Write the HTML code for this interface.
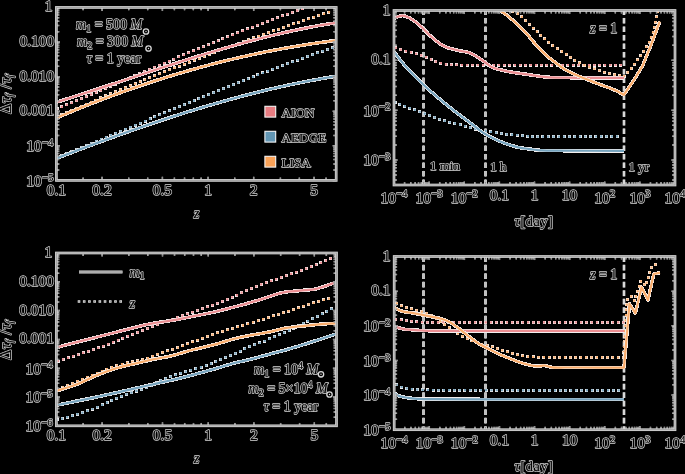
<!DOCTYPE html>
<html><head><meta charset="utf-8"><title>plot</title>
<style>html,body{margin:0;padding:0;background:#000;width:685px;height:474px;overflow:hidden}
svg{display:block;font-family:"Liberation Serif",serif}</style></head>
<body>
<svg width="685" height="474" viewBox="0 0 685 474">
<defs><clipPath id="cp1"><rect x="56.4" y="7.45" width="279.8" height="172.95"/></clipPath><clipPath id="cp2"><rect x="394" y="10.5" width="281" height="174.5"/></clipPath><clipPath id="cp3"><rect x="56.4" y="253" width="280.1" height="172.8"/></clipPath><clipPath id="cp4"><rect x="394.2" y="256.5" width="280.8" height="173.2"/></clipPath></defs>
<rect width="685" height="474" fill="#000"/>
<path d="M423.5 10.5L423.5 185" stroke="#f2f2f2" stroke-width="2.6" stroke-dasharray="5.6 2.9" stroke-dashoffset="1.1" fill="none"/>
<path d="M423.5 10.5L423.5 185" stroke="#b8b8b8" stroke-width="0.9" stroke-dasharray="5.6 2.9" stroke-dashoffset="1.1" fill="none"/>
<path d="M485.5 10.5L485.5 185" stroke="#f2f2f2" stroke-width="2.6" stroke-dasharray="5.6 2.9" stroke-dashoffset="1.1" fill="none"/>
<path d="M485.5 10.5L485.5 185" stroke="#b8b8b8" stroke-width="0.9" stroke-dasharray="5.6 2.9" stroke-dashoffset="1.1" fill="none"/>
<path d="M624 10.5L624 185" stroke="#f2f2f2" stroke-width="2.6" stroke-dasharray="5.6 2.9" stroke-dashoffset="1.1" fill="none"/>
<path d="M624 10.5L624 185" stroke="#b8b8b8" stroke-width="0.9" stroke-dasharray="5.6 2.9" stroke-dashoffset="1.1" fill="none"/>
<path d="M423.5 256.5L423.5 429.7" stroke="#f2f2f2" stroke-width="2.6" stroke-dasharray="5.6 2.9" stroke-dashoffset="0.2" fill="none"/>
<path d="M423.5 256.5L423.5 429.7" stroke="#b8b8b8" stroke-width="0.9" stroke-dasharray="5.6 2.9" stroke-dashoffset="0.2" fill="none"/>
<path d="M485.5 256.5L485.5 429.7" stroke="#f2f2f2" stroke-width="2.6" stroke-dasharray="5.6 2.9" stroke-dashoffset="0.2" fill="none"/>
<path d="M485.5 256.5L485.5 429.7" stroke="#b8b8b8" stroke-width="0.9" stroke-dasharray="5.6 2.9" stroke-dashoffset="0.2" fill="none"/>
<path d="M624 256.5L624 429.7" stroke="#f2f2f2" stroke-width="2.6" stroke-dasharray="5.6 2.9" stroke-dashoffset="0.2" fill="none"/>
<path d="M624 256.5L624 429.7" stroke="#b8b8b8" stroke-width="0.9" stroke-dasharray="5.6 2.9" stroke-dashoffset="0.2" fill="none"/>
<path d="M55.5 107.49h3v3h-3zM60.39 105.44h3v3h-3zM65.27 103.38h3v3h-3zM70.15 101.31h3v3h-3zM75.03 99.24h3v3h-3zM79.91 97.17h3v3h-3zM84.78 95.09h3v3h-3zM89.65 93h3v3h-3zM94.53 90.92h3v3h-3zM99.4 88.83h3v3h-3zM104.27 86.74h3v3h-3zM109.14 84.65h3v3h-3zM114.01 82.55h3v3h-3zM118.87 80.46h3v3h-3zM123.74 78.36h3v3h-3zM128.61 76.27h3v3h-3zM133.48 74.18h3v3h-3zM138.35 72.08h3v3h-3zM143.22 69.99h3v3h-3zM148.09 67.91h3v3h-3zM152.97 65.82h3v3h-3zM157.84 63.74h3v3h-3zM162.72 61.66h3v3h-3zM167.59 59.59h3v3h-3zM172.47 57.52h3v3h-3zM177.36 55.46h3v3h-3zM182.24 53.41h3v3h-3zM187.13 51.36h3v3h-3zM192.02 49.32h3v3h-3zM196.91 47.28h3v3h-3zM201.81 45.25h3v3h-3zM206.71 43.24h3v3h-3zM211.62 41.23h3v3h-3zM216.53 39.23h3v3h-3zM221.44 37.24h3v3h-3zM226.36 35.27h3v3h-3zM231.28 33.3h3v3h-3zM236.21 31.35h3v3h-3zM241.14 29.41h3v3h-3zM246.07 27.48h3v3h-3zM251.02 25.56h3v3h-3zM255.97 23.66h3v3h-3zM260.92 21.78h3v3h-3zM265.88 19.91h3v3h-3zM270.84 18.06h3v3h-3zM275.82 16.23h3v3h-3zM280.8 14.41h3v3h-3zM285.78 12.61h3v3h-3zM290.77 10.83h3v3h-3zM295.77 9.07h3v3h-3zM300.78 7.33h3v3h-3z" fill="#f2eeee" shape-rendering="crispEdges"/>
<path d="M55.9 107.89h2.2v2.2h-2.2zM60.79 105.84h2.2v2.2h-2.2zM65.67 103.78h2.2v2.2h-2.2zM70.55 101.71h2.2v2.2h-2.2zM75.43 99.64h2.2v2.2h-2.2zM80.31 97.57h2.2v2.2h-2.2zM85.18 95.49h2.2v2.2h-2.2zM90.05 93.4h2.2v2.2h-2.2zM94.93 91.32h2.2v2.2h-2.2zM99.8 89.23h2.2v2.2h-2.2zM104.67 87.14h2.2v2.2h-2.2zM109.54 85.05h2.2v2.2h-2.2zM114.41 82.95h2.2v2.2h-2.2zM119.27 80.86h2.2v2.2h-2.2zM124.14 78.76h2.2v2.2h-2.2zM129.01 76.67h2.2v2.2h-2.2zM133.88 74.58h2.2v2.2h-2.2zM138.75 72.48h2.2v2.2h-2.2zM143.62 70.39h2.2v2.2h-2.2zM148.49 68.31h2.2v2.2h-2.2zM153.37 66.22h2.2v2.2h-2.2zM158.24 64.14h2.2v2.2h-2.2zM163.12 62.06h2.2v2.2h-2.2zM167.99 59.99h2.2v2.2h-2.2zM172.87 57.92h2.2v2.2h-2.2zM177.76 55.86h2.2v2.2h-2.2zM182.64 53.81h2.2v2.2h-2.2zM187.53 51.76h2.2v2.2h-2.2zM192.42 49.72h2.2v2.2h-2.2zM197.31 47.68h2.2v2.2h-2.2zM202.21 45.65h2.2v2.2h-2.2zM207.11 43.64h2.2v2.2h-2.2zM212.02 41.63h2.2v2.2h-2.2zM216.93 39.63h2.2v2.2h-2.2zM221.84 37.64h2.2v2.2h-2.2zM226.76 35.67h2.2v2.2h-2.2zM231.68 33.7h2.2v2.2h-2.2zM236.61 31.75h2.2v2.2h-2.2zM241.54 29.81h2.2v2.2h-2.2zM246.47 27.88h2.2v2.2h-2.2zM251.42 25.96h2.2v2.2h-2.2zM256.37 24.06h2.2v2.2h-2.2zM261.32 22.18h2.2v2.2h-2.2zM266.28 20.31h2.2v2.2h-2.2zM271.24 18.46h2.2v2.2h-2.2zM276.22 16.63h2.2v2.2h-2.2zM281.2 14.81h2.2v2.2h-2.2zM286.18 13.01h2.2v2.2h-2.2zM291.17 11.23h2.2v2.2h-2.2zM296.17 9.47h2.2v2.2h-2.2zM301.18 7.73h2.2v2.2h-2.2z" fill="#eb8d91"/>
<path d="M55.5 115.19h3v3h-3zM60.36 113.09h3v3h-3zM65.23 110.99h3v3h-3zM70.1 108.89h3v3h-3zM74.97 106.81h3v3h-3zM79.85 104.73h3v3h-3zM84.72 102.65h3v3h-3zM89.6 100.58h3v3h-3zM94.48 98.52h3v3h-3zM99.37 96.46h3v3h-3zM104.26 94.41h3v3h-3zM109.15 92.37h3v3h-3zM114.04 90.33h3v3h-3zM118.94 88.3h3v3h-3zM123.83 86.28h3v3h-3zM128.74 84.26h3v3h-3zM133.64 82.25h3v3h-3zM138.55 80.25h3v3h-3zM143.46 78.25h3v3h-3zM148.37 76.27h3v3h-3zM153.29 74.29h3v3h-3zM158.21 72.32h3v3h-3zM163.13 70.35h3v3h-3zM168.05 68.39h3v3h-3zM172.98 66.45h3v3h-3zM177.92 64.5h3v3h-3zM182.85 62.57h3v3h-3zM187.79 60.65h3v3h-3zM192.73 58.73h3v3h-3zM197.68 56.83h3v3h-3zM202.62 54.93h3v3h-3zM207.58 53.04h3v3h-3zM212.53 51.16h3v3h-3zM217.49 49.29h3v3h-3zM222.45 47.42h3v3h-3zM227.42 45.57h3v3h-3zM232.39 43.73h3v3h-3zM237.36 41.89h3v3h-3zM242.33 40.07h3v3h-3zM247.31 38.25h3v3h-3zM252.3 36.45h3v3h-3zM257.28 34.65h3v3h-3zM262.27 32.87h3v3h-3zM267.27 31.09h3v3h-3zM272.27 29.33h3v3h-3zM277.27 27.58h3v3h-3zM282.27 25.83h3v3h-3zM287.28 24.1h3v3h-3zM292.3 22.38h3v3h-3zM297.31 20.67h3v3h-3zM302.33 18.97h3v3h-3zM307.36 17.29h3v3h-3zM312.39 15.61h3v3h-3zM317.42 13.95h3v3h-3zM322.45 12.3h3v3h-3zM327.49 10.66h3v3h-3z" fill="#f2eeee" shape-rendering="crispEdges"/>
<path d="M55.9 115.59h2.2v2.2h-2.2zM60.76 113.49h2.2v2.2h-2.2zM65.63 111.39h2.2v2.2h-2.2zM70.5 109.29h2.2v2.2h-2.2zM75.37 107.21h2.2v2.2h-2.2zM80.25 105.13h2.2v2.2h-2.2zM85.12 103.05h2.2v2.2h-2.2zM90 100.98h2.2v2.2h-2.2zM94.88 98.92h2.2v2.2h-2.2zM99.77 96.86h2.2v2.2h-2.2zM104.66 94.81h2.2v2.2h-2.2zM109.55 92.77h2.2v2.2h-2.2zM114.44 90.73h2.2v2.2h-2.2zM119.34 88.7h2.2v2.2h-2.2zM124.23 86.68h2.2v2.2h-2.2zM129.14 84.66h2.2v2.2h-2.2zM134.04 82.65h2.2v2.2h-2.2zM138.95 80.65h2.2v2.2h-2.2zM143.86 78.65h2.2v2.2h-2.2zM148.77 76.67h2.2v2.2h-2.2zM153.69 74.69h2.2v2.2h-2.2zM158.61 72.72h2.2v2.2h-2.2zM163.53 70.75h2.2v2.2h-2.2zM168.45 68.79h2.2v2.2h-2.2zM173.38 66.85h2.2v2.2h-2.2zM178.32 64.9h2.2v2.2h-2.2zM183.25 62.97h2.2v2.2h-2.2zM188.19 61.05h2.2v2.2h-2.2zM193.13 59.13h2.2v2.2h-2.2zM198.08 57.23h2.2v2.2h-2.2zM203.02 55.33h2.2v2.2h-2.2zM207.98 53.44h2.2v2.2h-2.2zM212.93 51.56h2.2v2.2h-2.2zM217.89 49.69h2.2v2.2h-2.2zM222.85 47.82h2.2v2.2h-2.2zM227.82 45.97h2.2v2.2h-2.2zM232.79 44.13h2.2v2.2h-2.2zM237.76 42.29h2.2v2.2h-2.2zM242.73 40.47h2.2v2.2h-2.2zM247.71 38.65h2.2v2.2h-2.2zM252.7 36.85h2.2v2.2h-2.2zM257.68 35.05h2.2v2.2h-2.2zM262.67 33.27h2.2v2.2h-2.2zM267.67 31.49h2.2v2.2h-2.2zM272.67 29.73h2.2v2.2h-2.2zM277.67 27.98h2.2v2.2h-2.2zM282.67 26.23h2.2v2.2h-2.2zM287.68 24.5h2.2v2.2h-2.2zM292.7 22.78h2.2v2.2h-2.2zM297.71 21.07h2.2v2.2h-2.2zM302.73 19.37h2.2v2.2h-2.2zM307.76 17.69h2.2v2.2h-2.2zM312.79 16.01h2.2v2.2h-2.2zM317.82 14.35h2.2v2.2h-2.2zM322.85 12.7h2.2v2.2h-2.2zM327.89 11.06h2.2v2.2h-2.2z" fill="#faad6c"/>
<path d="M55.5 156.03h3v3h-3zM60.41 154.05h3v3h-3zM65.33 152.06h3v3h-3zM70.23 150.05h3v3h-3zM75.14 148.05h3v3h-3zM80.04 146.03h3v3h-3zM84.94 144.02h3v3h-3zM89.84 141.99h3v3h-3zM94.74 139.96h3v3h-3zM99.63 137.93h3v3h-3zM104.52 135.89h3v3h-3zM109.41 133.85h3v3h-3zM114.3 131.81h3v3h-3zM119.19 129.76h3v3h-3zM124.08 127.71h3v3h-3zM128.97 125.66h3v3h-3zM133.86 123.61h3v3h-3zM138.74 121.56h3v3h-3zM143.63 119.51h3v3h-3zM148.52 117.46h3v3h-3zM153.4 115.4h3v3h-3zM158.29 113.36h3v3h-3zM163.18 111.31h3v3h-3zM168.07 109.26h3v3h-3zM172.96 107.22h3v3h-3zM177.85 105.18h3v3h-3zM182.75 103.15h3v3h-3zM187.64 101.12h3v3h-3zM192.54 99.09h3v3h-3zM197.44 97.07h3v3h-3zM202.34 95.05h3v3h-3zM207.24 93.04h3v3h-3zM212.15 91.04h3v3h-3zM217.06 89.05h3v3h-3zM221.97 87.06h3v3h-3zM226.89 85.08h3v3h-3zM231.81 83.11h3v3h-3zM236.73 81.14h3v3h-3zM241.66 79.19h3v3h-3zM246.59 77.25h3v3h-3zM251.53 75.32h3v3h-3zM256.47 73.4h3v3h-3zM261.41 71.49h3v3h-3zM266.36 69.59h3v3h-3zM271.32 67.71h3v3h-3zM276.28 65.84h3v3h-3zM281.24 63.99h3v3h-3zM286.21 62.15h3v3h-3zM291.19 60.32h3v3h-3zM296.17 58.51h3v3h-3zM301.15 56.72h3v3h-3zM306.15 54.94h3v3h-3zM311.15 53.18h3v3h-3zM316.15 51.44h3v3h-3zM321.17 49.72h3v3h-3zM326.19 48.02h3v3h-3zM331.21 46.33h3v3h-3z" fill="#f2eeee" shape-rendering="crispEdges"/>
<path d="M55.9 156.43h2.2v2.2h-2.2zM60.81 154.45h2.2v2.2h-2.2zM65.73 152.46h2.2v2.2h-2.2zM70.63 150.45h2.2v2.2h-2.2zM75.54 148.45h2.2v2.2h-2.2zM80.44 146.43h2.2v2.2h-2.2zM85.34 144.42h2.2v2.2h-2.2zM90.24 142.39h2.2v2.2h-2.2zM95.14 140.36h2.2v2.2h-2.2zM100.03 138.33h2.2v2.2h-2.2zM104.92 136.29h2.2v2.2h-2.2zM109.81 134.25h2.2v2.2h-2.2zM114.7 132.21h2.2v2.2h-2.2zM119.59 130.16h2.2v2.2h-2.2zM124.48 128.11h2.2v2.2h-2.2zM129.37 126.06h2.2v2.2h-2.2zM134.26 124.01h2.2v2.2h-2.2zM139.14 121.96h2.2v2.2h-2.2zM144.03 119.91h2.2v2.2h-2.2zM148.92 117.86h2.2v2.2h-2.2zM153.8 115.8h2.2v2.2h-2.2zM158.69 113.76h2.2v2.2h-2.2zM163.58 111.71h2.2v2.2h-2.2zM168.47 109.66h2.2v2.2h-2.2zM173.36 107.62h2.2v2.2h-2.2zM178.25 105.58h2.2v2.2h-2.2zM183.15 103.55h2.2v2.2h-2.2zM188.04 101.52h2.2v2.2h-2.2zM192.94 99.49h2.2v2.2h-2.2zM197.84 97.47h2.2v2.2h-2.2zM202.74 95.45h2.2v2.2h-2.2zM207.64 93.44h2.2v2.2h-2.2zM212.55 91.44h2.2v2.2h-2.2zM217.46 89.45h2.2v2.2h-2.2zM222.37 87.46h2.2v2.2h-2.2zM227.29 85.48h2.2v2.2h-2.2zM232.21 83.51h2.2v2.2h-2.2zM237.13 81.54h2.2v2.2h-2.2zM242.06 79.59h2.2v2.2h-2.2zM246.99 77.65h2.2v2.2h-2.2zM251.93 75.72h2.2v2.2h-2.2zM256.87 73.8h2.2v2.2h-2.2zM261.81 71.89h2.2v2.2h-2.2zM266.76 69.99h2.2v2.2h-2.2zM271.72 68.11h2.2v2.2h-2.2zM276.68 66.24h2.2v2.2h-2.2zM281.64 64.39h2.2v2.2h-2.2zM286.61 62.55h2.2v2.2h-2.2zM291.59 60.72h2.2v2.2h-2.2zM296.57 58.91h2.2v2.2h-2.2zM301.55 57.12h2.2v2.2h-2.2zM306.55 55.34h2.2v2.2h-2.2zM311.55 53.58h2.2v2.2h-2.2zM316.55 51.84h2.2v2.2h-2.2zM321.57 50.12h2.2v2.2h-2.2zM326.59 48.42h2.2v2.2h-2.2zM331.61 46.73h2.2v2.2h-2.2z" fill="#75a3bd"/>
<g clip-path="url(#cp1)"><path d="M56 102.36 C57 102.05 60 101.11 62 100.48 C64 99.85 66 99.22 68 98.58 C70 97.95 72 97.31 74 96.67 C76 96.02 78 95.38 80 94.73 C82 94.09 84 93.44 86 92.79 C88 92.14 90 91.49 92 90.83 C94 90.18 96 89.52 98 88.86 C100 88.21 102 87.55 104 86.89 C106 86.23 108 85.57 110 84.91 C112 84.24 114 83.58 116 82.92 C118 82.26 120 81.59 122 80.93 C124 80.26 126 79.6 128 78.94 C130 78.27 132 77.61 134 76.95 C136 76.28 138 75.62 140 74.96 C142 74.3 144 73.64 146 72.98 C148 72.32 150 71.66 152 71 C154 70.34 156 69.68 158 69.03 C160 68.37 162 67.72 164 67.07 C166 66.42 168 65.77 170 65.12 C172 64.47 174 63.83 176 63.19 C178 62.54 180 61.9 182 61.27 C184 60.63 186 59.99 188 59.36 C190 58.73 192 58.1 194 57.48 C196 56.85 198 56.23 200 55.61 C202 55 204 54.38 206 53.77 C208 53.16 210 52.56 212 51.96 C214 51.35 216 50.76 218 50.16 C220 49.57 222 48.98 224 48.4 C226 47.82 228 47.24 230 46.67 C232 46.09 234 45.52 236 44.96 C238 44.4 240 43.84 242 43.29 C244 42.74 246 42.19 248 41.66 C250 41.12 252 40.58 254 40.06 C256 39.53 258 39.01 260 38.5 C262 37.98 264 37.48 266 36.98 C268 36.48 270 35.98 272 35.5 C274 35.01 276 34.53 278 34.06 C280 33.59 282 33.13 284 32.67 C286 32.22 288 31.77 290 31.33 C292 30.89 294 30.46 296 30.04 C298 29.62 300 29.2 302 28.8 C304 28.4 306 28 308 27.61 C310 27.22 312 26.85 314 26.48 C316 26.11 318 25.75 320 25.4 C322 25.05 324 24.71 326 24.38 C328 24.05 330.27 23.69 332 23.42 C333.73 23.15 335.67 22.87 336.4 22.76" fill="none" stroke="#f2eeee" stroke-width="3.6" stroke-linejoin="round" shape-rendering="crispEdges"/>
<path d="M56 102.36 C57 102.05 60 101.11 62 100.48 C64 99.85 66 99.22 68 98.58 C70 97.95 72 97.31 74 96.67 C76 96.02 78 95.38 80 94.73 C82 94.09 84 93.44 86 92.79 C88 92.14 90 91.49 92 90.83 C94 90.18 96 89.52 98 88.86 C100 88.21 102 87.55 104 86.89 C106 86.23 108 85.57 110 84.91 C112 84.24 114 83.58 116 82.92 C118 82.26 120 81.59 122 80.93 C124 80.26 126 79.6 128 78.94 C130 78.27 132 77.61 134 76.95 C136 76.28 138 75.62 140 74.96 C142 74.3 144 73.64 146 72.98 C148 72.32 150 71.66 152 71 C154 70.34 156 69.68 158 69.03 C160 68.37 162 67.72 164 67.07 C166 66.42 168 65.77 170 65.12 C172 64.47 174 63.83 176 63.19 C178 62.54 180 61.9 182 61.27 C184 60.63 186 59.99 188 59.36 C190 58.73 192 58.1 194 57.48 C196 56.85 198 56.23 200 55.61 C202 55 204 54.38 206 53.77 C208 53.16 210 52.56 212 51.96 C214 51.35 216 50.76 218 50.16 C220 49.57 222 48.98 224 48.4 C226 47.82 228 47.24 230 46.67 C232 46.09 234 45.52 236 44.96 C238 44.4 240 43.84 242 43.29 C244 42.74 246 42.19 248 41.66 C250 41.12 252 40.58 254 40.06 C256 39.53 258 39.01 260 38.5 C262 37.98 264 37.48 266 36.98 C268 36.48 270 35.98 272 35.5 C274 35.01 276 34.53 278 34.06 C280 33.59 282 33.13 284 32.67 C286 32.22 288 31.77 290 31.33 C292 30.89 294 30.46 296 30.04 C298 29.62 300 29.2 302 28.8 C304 28.4 306 28 308 27.61 C310 27.22 312 26.85 314 26.48 C316 26.11 318 25.75 320 25.4 C322 25.05 324 24.71 326 24.38 C328 24.05 330.27 23.69 332 23.42 C333.73 23.15 335.67 22.87 336.4 22.76" fill="none" stroke="#eb8d91" stroke-width="2.2" stroke-linejoin="round"/></g>
<g clip-path="url(#cp1)"><path d="M56 118.12 C57 117.7 60 116.41 62 115.56 C64 114.72 66 113.88 68 113.05 C70 112.21 72 111.39 74 110.56 C76 109.74 78 108.93 80 108.12 C82 107.31 84 106.51 86 105.72 C88 104.92 90 104.13 92 103.35 C94 102.57 96 101.8 98 101.03 C100 100.26 102 99.49 104 98.74 C106 97.98 108 97.23 110 96.49 C112 95.75 114 95.01 116 94.28 C118 93.55 120 92.82 122 92.11 C124 91.39 126 90.68 128 89.97 C130 89.27 132 88.57 134 87.88 C136 87.19 138 86.5 140 85.83 C142 85.15 144 84.47 146 83.81 C148 83.14 150 82.49 152 81.83 C154 81.18 156 80.53 158 79.9 C160 79.26 162 78.62 164 78 C166 77.37 168 76.75 170 76.14 C172 75.52 174 74.92 176 74.32 C178 73.72 180 73.13 182 72.54 C184 71.95 186 71.37 188 70.8 C190 70.22 192 69.66 194 69.1 C196 68.54 198 67.98 200 67.43 C202 66.89 204 66.35 206 65.81 C208 65.28 210 64.75 212 64.23 C214 63.71 216 63.19 218 62.69 C220 62.18 222 61.68 224 61.18 C226 60.69 228 60.2 230 59.72 C232 59.24 234 58.77 236 58.3 C238 57.83 240 57.37 242 56.91 C244 56.46 246 56.01 248 55.57 C250 55.13 252 54.7 254 54.27 C256 53.84 258 53.42 260 53 C262 52.59 264 52.18 266 51.78 C268 51.38 270 50.99 272 50.6 C274 50.21 276 49.83 278 49.46 C280 49.08 282 48.71 284 48.35 C286 47.99 288 47.64 290 47.29 C292 46.94 294 46.6 296 46.27 C298 45.94 300 45.61 302 45.29 C304 44.97 306 44.65 308 44.35 C310 44.04 312 43.74 314 43.45 C316 43.15 318 42.87 320 42.59 C322 42.31 324 42.04 326 41.77 C328 41.5 330.27 41.21 332 40.99 C333.73 40.77 335.67 40.54 336.4 40.45" fill="none" stroke="#f2eeee" stroke-width="3.6" stroke-linejoin="round" shape-rendering="crispEdges"/>
<path d="M56 118.12 C57 117.7 60 116.41 62 115.56 C64 114.72 66 113.88 68 113.05 C70 112.21 72 111.39 74 110.56 C76 109.74 78 108.93 80 108.12 C82 107.31 84 106.51 86 105.72 C88 104.92 90 104.13 92 103.35 C94 102.57 96 101.8 98 101.03 C100 100.26 102 99.49 104 98.74 C106 97.98 108 97.23 110 96.49 C112 95.75 114 95.01 116 94.28 C118 93.55 120 92.82 122 92.11 C124 91.39 126 90.68 128 89.97 C130 89.27 132 88.57 134 87.88 C136 87.19 138 86.5 140 85.83 C142 85.15 144 84.47 146 83.81 C148 83.14 150 82.49 152 81.83 C154 81.18 156 80.53 158 79.9 C160 79.26 162 78.62 164 78 C166 77.37 168 76.75 170 76.14 C172 75.52 174 74.92 176 74.32 C178 73.72 180 73.13 182 72.54 C184 71.95 186 71.37 188 70.8 C190 70.22 192 69.66 194 69.1 C196 68.54 198 67.98 200 67.43 C202 66.89 204 66.35 206 65.81 C208 65.28 210 64.75 212 64.23 C214 63.71 216 63.19 218 62.69 C220 62.18 222 61.68 224 61.18 C226 60.69 228 60.2 230 59.72 C232 59.24 234 58.77 236 58.3 C238 57.83 240 57.37 242 56.91 C244 56.46 246 56.01 248 55.57 C250 55.13 252 54.7 254 54.27 C256 53.84 258 53.42 260 53 C262 52.59 264 52.18 266 51.78 C268 51.38 270 50.99 272 50.6 C274 50.21 276 49.83 278 49.46 C280 49.08 282 48.71 284 48.35 C286 47.99 288 47.64 290 47.29 C292 46.94 294 46.6 296 46.27 C298 45.94 300 45.61 302 45.29 C304 44.97 306 44.65 308 44.35 C310 44.04 312 43.74 314 43.45 C316 43.15 318 42.87 320 42.59 C322 42.31 324 42.04 326 41.77 C328 41.5 330.27 41.21 332 40.99 C333.73 40.77 335.67 40.54 336.4 40.45" fill="none" stroke="#faad6c" stroke-width="2.2" stroke-linejoin="round"/></g>
<g clip-path="url(#cp1)"><path d="M56 158.6 C57 158.21 60 157.05 62 156.28 C64 155.5 66 154.73 68 153.97 C70 153.2 72 152.43 74 151.67 C76 150.91 78 150.15 80 149.39 C82 148.64 84 147.88 86 147.13 C88 146.38 90 145.63 92 144.88 C94 144.14 96 143.39 98 142.65 C100 141.91 102 141.18 104 140.44 C106 139.71 108 138.98 110 138.25 C112 137.52 114 136.8 116 136.08 C118 135.36 120 134.64 122 133.92 C124 133.21 126 132.5 128 131.79 C130 131.09 132 130.38 134 129.68 C136 128.98 138 128.29 140 127.6 C142 126.9 144 126.22 146 125.53 C148 124.85 150 124.17 152 123.49 C154 122.81 156 122.14 158 121.47 C160 120.81 162 120.14 164 119.48 C166 118.82 168 118.17 170 117.52 C172 116.87 174 116.22 176 115.58 C178 114.94 180 114.3 182 113.67 C184 113.04 186 112.41 188 111.78 C190 111.16 192 110.54 194 109.93 C196 109.32 198 108.71 200 108.11 C202 107.5 204 106.9 206 106.31 C208 105.72 210 105.13 212 104.55 C214 103.96 216 103.39 218 102.81 C220 102.24 222 101.68 224 101.11 C226 100.55 228 100 230 99.45 C232 98.9 234 98.35 236 97.81 C238 97.28 240 96.74 242 96.22 C244 95.69 246 95.17 248 94.65 C250 94.14 252 93.63 254 93.12 C256 92.62 258 92.12 260 91.63 C262 91.14 264 90.66 266 90.18 C268 89.7 270 89.23 272 88.76 C274 88.3 276 87.84 278 87.39 C280 86.93 282 86.49 284 86.05 C286 85.61 288 85.18 290 84.75 C292 84.33 294 83.91 296 83.49 C298 83.08 300 82.68 302 82.28 C304 81.88 306 81.49 308 81.11 C310 80.72 312 80.35 314 79.98 C316 79.61 318 79.24 320 78.89 C322 78.54 324 78.19 326 77.85 C328 77.51 330.33 77.12 332 76.85 C333.67 76.58 335.33 76.32 336 76.21" fill="none" stroke="#f2eeee" stroke-width="3.6" stroke-linejoin="round" shape-rendering="crispEdges"/>
<path d="M56 158.6 C57 158.21 60 157.05 62 156.28 C64 155.5 66 154.73 68 153.97 C70 153.2 72 152.43 74 151.67 C76 150.91 78 150.15 80 149.39 C82 148.64 84 147.88 86 147.13 C88 146.38 90 145.63 92 144.88 C94 144.14 96 143.39 98 142.65 C100 141.91 102 141.18 104 140.44 C106 139.71 108 138.98 110 138.25 C112 137.52 114 136.8 116 136.08 C118 135.36 120 134.64 122 133.92 C124 133.21 126 132.5 128 131.79 C130 131.09 132 130.38 134 129.68 C136 128.98 138 128.29 140 127.6 C142 126.9 144 126.22 146 125.53 C148 124.85 150 124.17 152 123.49 C154 122.81 156 122.14 158 121.47 C160 120.81 162 120.14 164 119.48 C166 118.82 168 118.17 170 117.52 C172 116.87 174 116.22 176 115.58 C178 114.94 180 114.3 182 113.67 C184 113.04 186 112.41 188 111.78 C190 111.16 192 110.54 194 109.93 C196 109.32 198 108.71 200 108.11 C202 107.5 204 106.9 206 106.31 C208 105.72 210 105.13 212 104.55 C214 103.96 216 103.39 218 102.81 C220 102.24 222 101.68 224 101.11 C226 100.55 228 100 230 99.45 C232 98.9 234 98.35 236 97.81 C238 97.28 240 96.74 242 96.22 C244 95.69 246 95.17 248 94.65 C250 94.14 252 93.63 254 93.12 C256 92.62 258 92.12 260 91.63 C262 91.14 264 90.66 266 90.18 C268 89.7 270 89.23 272 88.76 C274 88.3 276 87.84 278 87.39 C280 86.93 282 86.49 284 86.05 C286 85.61 288 85.18 290 84.75 C292 84.33 294 83.91 296 83.49 C298 83.08 300 82.68 302 82.28 C304 81.88 306 81.49 308 81.11 C310 80.72 312 80.35 314 79.98 C316 79.61 318 79.24 320 78.89 C322 78.54 324 78.19 326 77.85 C328 77.51 330.33 77.12 332 76.85 C333.67 76.58 335.33 76.32 336 76.21" fill="none" stroke="#75a3bd" stroke-width="2.2" stroke-linejoin="round"/></g>
<path d="M394.3 46.3h3v3h-3zM399.31 48.04h3v3h-3zM404.37 49.61h3v3h-3zM409.52 50.84h3v3h-3zM414.63 52.24h3v3h-3zM419.7 53.8h3v3h-3zM424.64 55.71h3v3h-3zM429.5 57.82h3v3h-3zM434.28 60.11h3v3h-3zM439.33 61.71h3v3h-3zM444.51 62.8h3v3h-3zM449.79 63.27h3v3h-3zM455.09 63.42h3v3h-3zM460.39 63.5h3v3h-3zM465.69 63.52h3v3h-3zM470.99 63.51h3v3h-3zM476.29 63.5h3v3h-3zM481.59 63.5h3v3h-3zM486.89 63.5h3v3h-3zM492.19 63.5h3v3h-3zM497.49 63.5h3v3h-3zM502.79 63.5h3v3h-3zM508.09 63.5h3v3h-3zM513.39 63.5h3v3h-3zM518.69 63.5h3v3h-3zM523.99 63.5h3v3h-3zM529.29 63.5h3v3h-3zM534.59 63.5h3v3h-3zM539.89 63.5h3v3h-3zM545.19 63.5h3v3h-3zM550.49 63.5h3v3h-3zM555.79 63.5h3v3h-3zM561.09 63.5h3v3h-3zM566.39 63.5h3v3h-3zM571.69 63.5h3v3h-3zM576.99 63.5h3v3h-3zM582.29 63.5h3v3h-3zM587.59 63.5h3v3h-3zM592.89 63.5h3v3h-3zM598.19 63.5h3v3h-3zM603.49 63.5h3v3h-3zM608.79 63.5h3v3h-3zM614.09 63.5h3v3h-3zM619.39 63.5h3v3h-3z" fill="#f2eeee" shape-rendering="crispEdges"/>
<path d="M394.7 46.7h2.2v2.2h-2.2zM399.71 48.44h2.2v2.2h-2.2zM404.77 50.01h2.2v2.2h-2.2zM409.92 51.24h2.2v2.2h-2.2zM415.03 52.64h2.2v2.2h-2.2zM420.1 54.2h2.2v2.2h-2.2zM425.04 56.11h2.2v2.2h-2.2zM429.9 58.22h2.2v2.2h-2.2zM434.68 60.51h2.2v2.2h-2.2zM439.73 62.11h2.2v2.2h-2.2zM444.91 63.2h2.2v2.2h-2.2zM450.19 63.67h2.2v2.2h-2.2zM455.49 63.82h2.2v2.2h-2.2zM460.79 63.9h2.2v2.2h-2.2zM466.09 63.92h2.2v2.2h-2.2zM471.39 63.91h2.2v2.2h-2.2zM476.69 63.9h2.2v2.2h-2.2zM481.99 63.9h2.2v2.2h-2.2zM487.29 63.9h2.2v2.2h-2.2zM492.59 63.9h2.2v2.2h-2.2zM497.89 63.9h2.2v2.2h-2.2zM503.19 63.9h2.2v2.2h-2.2zM508.49 63.9h2.2v2.2h-2.2zM513.79 63.9h2.2v2.2h-2.2zM519.09 63.9h2.2v2.2h-2.2zM524.39 63.9h2.2v2.2h-2.2zM529.69 63.9h2.2v2.2h-2.2zM534.99 63.9h2.2v2.2h-2.2zM540.29 63.9h2.2v2.2h-2.2zM545.59 63.9h2.2v2.2h-2.2zM550.89 63.9h2.2v2.2h-2.2zM556.19 63.9h2.2v2.2h-2.2zM561.49 63.9h2.2v2.2h-2.2zM566.79 63.9h2.2v2.2h-2.2zM572.09 63.9h2.2v2.2h-2.2zM577.39 63.9h2.2v2.2h-2.2zM582.69 63.9h2.2v2.2h-2.2zM587.99 63.9h2.2v2.2h-2.2zM593.29 63.9h2.2v2.2h-2.2zM598.59 63.9h2.2v2.2h-2.2zM603.89 63.9h2.2v2.2h-2.2zM609.19 63.9h2.2v2.2h-2.2zM614.49 63.9h2.2v2.2h-2.2zM619.79 63.9h2.2v2.2h-2.2z" fill="#eb8d91"/>
<path d="M393.5 100.8h3v3h-3zM398.43 102.74h3v3h-3zM403.38 104.65h3v3h-3zM408.33 106.52h3v3h-3zM413.3 108.38h3v3h-3zM418.26 110.24h3v3h-3zM423.22 112.1h3v3h-3zM428.18 113.97h3v3h-3zM433.13 115.87h3v3h-3zM438.1 117.73h3v3h-3zM443.15 119.33h3v3h-3zM448.26 120.74h3v3h-3zM453.42 121.92h3v3h-3zM458.58 123.12h3v3h-3zM463.66 124.65h3v3h-3zM468.73 126.2h3v3h-3zM473.86 127.52h3v3h-3zM479.02 128.71h3v3h-3zM484.23 129.71h3v3h-3zM489.47 130.46h3v3h-3zM494.73 131.13h3v3h-3zM499.96 131.99h3v3h-3zM505.2 132.8h3v3h-3zM510.48 133.2h3v3h-3zM515.77 133.51h3v3h-3zM521.05 134.03h3v3h-3zM526.31 134.61h3v3h-3zM530.84 135.08h3v3h-3zM536.14 135.1h3v3h-3zM541.44 135.1h3v3h-3zM546.74 135.1h3v3h-3zM552.04 135.09h3v3h-3zM557.34 135.08h3v3h-3zM562.64 135.07h3v3h-3zM567.94 135.05h3v3h-3zM573.24 135.04h3v3h-3zM578.54 135.02h3v3h-3zM583.84 135.01h3v3h-3zM589.14 134.99h3v3h-3zM594.44 134.98h3v3h-3zM599.74 134.96h3v3h-3zM605.04 134.94h3v3h-3zM610.34 134.93h3v3h-3zM615.64 134.91h3v3h-3z" fill="#f2eeee" shape-rendering="crispEdges"/>
<path d="M393.9 101.2h2.2v2.2h-2.2zM398.83 103.14h2.2v2.2h-2.2zM403.78 105.05h2.2v2.2h-2.2zM408.73 106.92h2.2v2.2h-2.2zM413.7 108.78h2.2v2.2h-2.2zM418.66 110.64h2.2v2.2h-2.2zM423.62 112.5h2.2v2.2h-2.2zM428.58 114.37h2.2v2.2h-2.2zM433.53 116.27h2.2v2.2h-2.2zM438.5 118.13h2.2v2.2h-2.2zM443.55 119.73h2.2v2.2h-2.2zM448.66 121.14h2.2v2.2h-2.2zM453.82 122.32h2.2v2.2h-2.2zM458.98 123.52h2.2v2.2h-2.2zM464.06 125.05h2.2v2.2h-2.2zM469.13 126.6h2.2v2.2h-2.2zM474.26 127.92h2.2v2.2h-2.2zM479.42 129.11h2.2v2.2h-2.2zM484.63 130.11h2.2v2.2h-2.2zM489.87 130.86h2.2v2.2h-2.2zM495.13 131.53h2.2v2.2h-2.2zM500.36 132.39h2.2v2.2h-2.2zM505.6 133.2h2.2v2.2h-2.2zM510.88 133.6h2.2v2.2h-2.2zM516.17 133.91h2.2v2.2h-2.2zM521.45 134.43h2.2v2.2h-2.2zM526.71 135.01h2.2v2.2h-2.2zM531.24 135.48h2.2v2.2h-2.2zM536.54 135.5h2.2v2.2h-2.2zM541.84 135.5h2.2v2.2h-2.2zM547.14 135.5h2.2v2.2h-2.2zM552.44 135.49h2.2v2.2h-2.2zM557.74 135.48h2.2v2.2h-2.2zM563.04 135.47h2.2v2.2h-2.2zM568.34 135.45h2.2v2.2h-2.2zM573.64 135.44h2.2v2.2h-2.2zM578.94 135.42h2.2v2.2h-2.2zM584.24 135.41h2.2v2.2h-2.2zM589.54 135.39h2.2v2.2h-2.2zM594.84 135.38h2.2v2.2h-2.2zM600.14 135.36h2.2v2.2h-2.2zM605.44 135.34h2.2v2.2h-2.2zM610.74 135.33h2.2v2.2h-2.2zM616.04 135.31h2.2v2.2h-2.2z" fill="#75a3bd"/>
<path d="M511.49 9.79h3v3h-3zM516.27 12.05h3v3h-3zM520.41 15.35h3v3h-3zM524.2 19.05h3v3h-3zM528.01 22.74h3v3h-3zM531.75 26.5h3v3h-3zM535.52 30.22h3v3h-3zM539.38 33.86h3v3h-3zM543.3 37.42h3v3h-3zM547.34 40.85h3v3h-3zM551.48 44.16h3v3h-3zM555.8 47.22h3v3h-3zM560.39 49.88h3v3h-3zM564.88 52.68h3v3h-3zM569.1 55.89h3v3h-3zM573.42 58.95h3v3h-3zM578.09 61.46h3v3h-3zM582.92 63.64h3v3h-3zM587.85 65.57h3v3h-3zM592.88 67.26h3v3h-3zM597.88 69h3v3h-3zM602.88 70.75h3v3h-3zM607.98 72.19h3v3h-3zM613.19 73.2h3v3h-3zM618.42 74.05h3v3h-3z" fill="#f2eeee" shape-rendering="crispEdges"/>
<path d="M511.89 10.19h2.2v2.2h-2.2zM516.67 12.45h2.2v2.2h-2.2zM520.81 15.75h2.2v2.2h-2.2zM524.6 19.45h2.2v2.2h-2.2zM528.41 23.14h2.2v2.2h-2.2zM532.15 26.9h2.2v2.2h-2.2zM535.92 30.62h2.2v2.2h-2.2zM539.78 34.26h2.2v2.2h-2.2zM543.7 37.82h2.2v2.2h-2.2zM547.74 41.25h2.2v2.2h-2.2zM551.88 44.56h2.2v2.2h-2.2zM556.2 47.62h2.2v2.2h-2.2zM560.79 50.28h2.2v2.2h-2.2zM565.28 53.08h2.2v2.2h-2.2zM569.5 56.29h2.2v2.2h-2.2zM573.82 59.35h2.2v2.2h-2.2zM578.49 61.86h2.2v2.2h-2.2zM583.32 64.04h2.2v2.2h-2.2zM588.25 65.97h2.2v2.2h-2.2zM593.28 67.66h2.2v2.2h-2.2zM598.28 69.4h2.2v2.2h-2.2zM603.28 71.15h2.2v2.2h-2.2zM608.38 72.59h2.2v2.2h-2.2zM613.59 73.6h2.2v2.2h-2.2zM618.82 74.45h2.2v2.2h-2.2z" fill="#faad6c"/>
<path d="M622.5 74.7h3v3h-3zM626.25 70.95h3v3h-3zM629.72 66.97h3v3h-3zM632.87 62.71h3v3h-3zM636.05 58.47h3v3h-3zM639.27 54.26h3v3h-3zM642.26 49.89h3v3h-3zM644.99 45.35h3v3h-3zM647.6 40.75h3v3h-3zM649.55 35.82h3v3h-3zM651.5 30.89h3v3h-3zM652.71 25.73h3v3h-3zM653.91 20.57h3v3h-3zM655.14 15.41h3v3h-3zM656.42 10.27h3v3h-3z" fill="#f2eeee" shape-rendering="crispEdges"/>
<path d="M622.9 75.1h2.2v2.2h-2.2zM626.65 71.35h2.2v2.2h-2.2zM630.12 67.37h2.2v2.2h-2.2zM633.27 63.11h2.2v2.2h-2.2zM636.45 58.87h2.2v2.2h-2.2zM639.67 54.66h2.2v2.2h-2.2zM642.66 50.29h2.2v2.2h-2.2zM645.39 45.75h2.2v2.2h-2.2zM648 41.15h2.2v2.2h-2.2zM649.95 36.22h2.2v2.2h-2.2zM651.9 31.29h2.2v2.2h-2.2zM653.11 26.13h2.2v2.2h-2.2zM654.31 20.97h2.2v2.2h-2.2zM655.54 15.81h2.2v2.2h-2.2zM656.82 10.67h2.2v2.2h-2.2z" fill="#faad6c"/>
<g clip-path="url(#cp2)"><path d="M394 18.4 C395.42 17.93 399.5 15.43 402.5 15.6 C405.5 15.77 408.83 17.5 412 19.4 C415.17 21.3 418.33 24.15 421.5 27 C424.67 29.85 427.85 33.67 431 36.5 C434.15 39.33 437.57 42.12 440.4 44 C443.23 45.88 444.83 46.68 448 47.8 C451.17 48.92 455.9 49.9 459.4 50.7 C462.9 51.5 466.15 51.65 469 52.6 C471.85 53.55 473.67 54.67 476.5 56.4 C479.33 58.13 483.2 61.1 486 63 C488.8 64.9 489.55 66.37 493.3 67.8 C497.05 69.23 502.82 70.5 508.5 71.6 C514.18 72.7 521.08 73.48 527.4 74.4 C533.72 75.32 540.07 76.57 546.4 77.1 C552.73 77.63 559.8 77.48 565.4 77.6 C571 77.72 570.23 77.77 580 77.8 C589.77 77.83 616.67 77.8 624 77.8" fill="none" stroke="#f2eeee" stroke-width="3.6" stroke-linejoin="round" shape-rendering="crispEdges"/>
<path d="M394 18.4 C395.42 17.93 399.5 15.43 402.5 15.6 C405.5 15.77 408.83 17.5 412 19.4 C415.17 21.3 418.33 24.15 421.5 27 C424.67 29.85 427.85 33.67 431 36.5 C434.15 39.33 437.57 42.12 440.4 44 C443.23 45.88 444.83 46.68 448 47.8 C451.17 48.92 455.9 49.9 459.4 50.7 C462.9 51.5 466.15 51.65 469 52.6 C471.85 53.55 473.67 54.67 476.5 56.4 C479.33 58.13 483.2 61.1 486 63 C488.8 64.9 489.55 66.37 493.3 67.8 C497.05 69.23 502.82 70.5 508.5 71.6 C514.18 72.7 521.08 73.48 527.4 74.4 C533.72 75.32 540.07 76.57 546.4 77.1 C552.73 77.63 559.8 77.48 565.4 77.6 C571 77.72 570.23 77.77 580 77.8 C589.77 77.83 616.67 77.8 624 77.8" fill="none" stroke="#eb8d91" stroke-width="2.2" stroke-linejoin="round"/></g>
<g clip-path="url(#cp2)"><path d="M394 51.6 C395.83 53.95 400 60.08 405 65.7 C410 71.32 417.67 79.28 424 85.3 C430.33 91.32 437 96.8 443 101.8 C449 106.8 455.22 111.6 460 115.3 C464.78 119 467.8 121.08 471.7 124 C475.6 126.92 479.52 130.27 483.4 132.8 C487.28 135.33 491.12 137.35 495 139.2 C498.88 141.05 502.8 142.53 506.7 143.9 C510.6 145.27 514.52 146.53 518.4 147.4 C522.28 148.27 526.4 148.62 530 149.1 C533.6 149.58 535.67 150.03 540 150.3 C544.33 150.57 542 150.62 556 150.7 C570 150.78 612.67 150.78 624 150.8" fill="none" stroke="#f2eeee" stroke-width="3.6" stroke-linejoin="round" shape-rendering="crispEdges"/>
<path d="M394 51.6 C395.83 53.95 400 60.08 405 65.7 C410 71.32 417.67 79.28 424 85.3 C430.33 91.32 437 96.8 443 101.8 C449 106.8 455.22 111.6 460 115.3 C464.78 119 467.8 121.08 471.7 124 C475.6 126.92 479.52 130.27 483.4 132.8 C487.28 135.33 491.12 137.35 495 139.2 C498.88 141.05 502.8 142.53 506.7 143.9 C510.6 145.27 514.52 146.53 518.4 147.4 C522.28 148.27 526.4 148.62 530 149.1 C533.6 149.58 535.67 150.03 540 150.3 C544.33 150.57 542 150.62 556 150.7 C570 150.78 612.67 150.78 624 150.8" fill="none" stroke="#75a3bd" stroke-width="2.2" stroke-linejoin="round"/></g>
<g clip-path="url(#cp2)"><path d="M497 7 C497.65 7.63 498.98 9.22 500.9 10.8 C502.82 12.38 505.65 14.13 508.5 16.5 C511.35 18.87 514.85 21.98 518 25 C521.15 28.02 524.23 31.1 527.4 34.6 C530.57 38.1 533.83 42.53 537 46 C540.17 49.47 543.25 52.57 546.4 55.4 C549.55 58.23 552.73 60.62 555.9 63 C559.07 65.38 562.22 67.77 565.4 69.7 C568.58 71.63 569.88 72.38 575 74.6 C580.12 76.82 589.77 80.55 596.1 83 C602.43 85.45 608.38 87.33 613 89.3 C617.62 91.27 622 93.88 623.8 94.8 L623.8 94.8 L632 83 L642.5 66.1 L651 45 L659.8 21.5" fill="none" stroke="#f2eeee" stroke-width="3.6" stroke-linejoin="round" shape-rendering="crispEdges"/>
<path d="M497 7 C497.65 7.63 498.98 9.22 500.9 10.8 C502.82 12.38 505.65 14.13 508.5 16.5 C511.35 18.87 514.85 21.98 518 25 C521.15 28.02 524.23 31.1 527.4 34.6 C530.57 38.1 533.83 42.53 537 46 C540.17 49.47 543.25 52.57 546.4 55.4 C549.55 58.23 552.73 60.62 555.9 63 C559.07 65.38 562.22 67.77 565.4 69.7 C568.58 71.63 569.88 72.38 575 74.6 C580.12 76.82 589.77 80.55 596.1 83 C602.43 85.45 608.38 87.33 613 89.3 C617.62 91.27 622 93.88 623.8 94.8 L623.8 94.8 L632 83 L642.5 66.1 L651 45 L659.8 21.5" fill="none" stroke="#faad6c" stroke-width="2.2" stroke-linejoin="round"/></g>
<path d="M56.5 359.5h3v3h-3zM61.55 357.89h3v3h-3zM66.6 356.28h3v3h-3zM71.65 354.67h3v3h-3zM76.7 353.06h3v3h-3zM81.74 351.43h3v3h-3zM86.78 349.79h3v3h-3zM91.81 348.12h3v3h-3zM96.82 346.39h3v3h-3zM101.79 344.56h3v3h-3zM106.71 342.58h3v3h-3zM111.61 340.56h3v3h-3zM116.53 338.59h3v3h-3zM121.46 336.65h3v3h-3zM126.39 334.7h3v3h-3zM131.32 332.75h3v3h-3zM136.25 330.81h3v3h-3zM141.18 328.87h3v3h-3zM146.12 326.93h3v3h-3zM151.05 325.01h3v3h-3zM155.99 323.09h3v3h-3zM160.94 321.18h3v3h-3zM165.9 319.32h3v3h-3zM170.88 317.5h3v3h-3zM175.88 315.75h3v3h-3zM180.9 314.04h3v3h-3zM185.92 312.34h3v3h-3zM190.93 310.62h3v3h-3zM195.94 308.9h3v3h-3zM200.96 307.18h3v3h-3zM205.96 305.43h3v3h-3zM210.94 303.62h3v3h-3zM215.9 301.73h3v3h-3zM220.83 299.79h3v3h-3zM225.74 297.81h3v3h-3zM230.64 295.77h3v3h-3zM235.47 293.61h3v3h-3zM240.14 291.09h3v3h-3zM244.95 288.88h3v3h-3zM249.84 286.84h3v3h-3zM254.76 284.87h3v3h-3zM259.7 282.94h3v3h-3zM264.66 281.07h3v3h-3zM269.65 279.28h3v3h-3zM274.65 277.54h3v3h-3zM279.67 275.83h3v3h-3zM284.68 274.09h3v3h-3zM289.69 272.37h3v3h-3zM294.7 270.64h3v3h-3zM299.7 268.89h3v3h-3zM304.68 267.06h3v3h-3zM309.63 265.18h3v3h-3zM314.57 263.25h3v3h-3zM319.48 261.27h3v3h-3zM324.36 259.21h3v3h-3zM329.13 256.9h3v3h-3zM333.79 254.37h3v3h-3z" fill="#f2eeee" shape-rendering="crispEdges"/>
<path d="M56.9 359.9h2.2v2.2h-2.2zM61.95 358.29h2.2v2.2h-2.2zM67 356.68h2.2v2.2h-2.2zM72.05 355.07h2.2v2.2h-2.2zM77.1 353.46h2.2v2.2h-2.2zM82.14 351.83h2.2v2.2h-2.2zM87.18 350.19h2.2v2.2h-2.2zM92.21 348.52h2.2v2.2h-2.2zM97.22 346.79h2.2v2.2h-2.2zM102.19 344.96h2.2v2.2h-2.2zM107.11 342.98h2.2v2.2h-2.2zM112.01 340.96h2.2v2.2h-2.2zM116.93 338.99h2.2v2.2h-2.2zM121.86 337.05h2.2v2.2h-2.2zM126.79 335.1h2.2v2.2h-2.2zM131.72 333.15h2.2v2.2h-2.2zM136.65 331.21h2.2v2.2h-2.2zM141.58 329.27h2.2v2.2h-2.2zM146.52 327.33h2.2v2.2h-2.2zM151.45 325.41h2.2v2.2h-2.2zM156.39 323.49h2.2v2.2h-2.2zM161.34 321.58h2.2v2.2h-2.2zM166.3 319.72h2.2v2.2h-2.2zM171.28 317.9h2.2v2.2h-2.2zM176.28 316.15h2.2v2.2h-2.2zM181.3 314.44h2.2v2.2h-2.2zM186.32 312.74h2.2v2.2h-2.2zM191.33 311.02h2.2v2.2h-2.2zM196.34 309.3h2.2v2.2h-2.2zM201.36 307.58h2.2v2.2h-2.2zM206.36 305.83h2.2v2.2h-2.2zM211.34 304.02h2.2v2.2h-2.2zM216.3 302.13h2.2v2.2h-2.2zM221.23 300.19h2.2v2.2h-2.2zM226.14 298.21h2.2v2.2h-2.2zM231.04 296.17h2.2v2.2h-2.2zM235.87 294.01h2.2v2.2h-2.2zM240.54 291.49h2.2v2.2h-2.2zM245.35 289.28h2.2v2.2h-2.2zM250.24 287.24h2.2v2.2h-2.2zM255.16 285.27h2.2v2.2h-2.2zM260.1 283.34h2.2v2.2h-2.2zM265.06 281.47h2.2v2.2h-2.2zM270.05 279.68h2.2v2.2h-2.2zM275.05 277.94h2.2v2.2h-2.2zM280.07 276.23h2.2v2.2h-2.2zM285.08 274.49h2.2v2.2h-2.2zM290.09 272.77h2.2v2.2h-2.2zM295.1 271.04h2.2v2.2h-2.2zM300.1 269.29h2.2v2.2h-2.2zM305.08 267.46h2.2v2.2h-2.2zM310.03 265.58h2.2v2.2h-2.2zM314.97 263.65h2.2v2.2h-2.2zM319.88 261.67h2.2v2.2h-2.2zM324.76 259.61h2.2v2.2h-2.2zM329.53 257.3h2.2v2.2h-2.2zM334.19 254.77h2.2v2.2h-2.2z" fill="#eb8d91"/>
<path d="M56.5 388h3v3h-3zM61.38 385.93h3v3h-3zM66.26 383.86h3v3h-3zM71.13 381.78h3v3h-3zM76.01 379.71h3v3h-3zM80.9 377.65h3v3h-3zM85.78 375.6h3v3h-3zM90.68 373.57h3v3h-3zM95.59 371.58h3v3h-3zM100.51 369.61h3v3h-3zM105.44 367.67h3v3h-3zM110.41 365.82h3v3h-3zM115.43 364.13h3v3h-3zM120.52 362.64h3v3h-3zM125.67 361.4h3v3h-3zM130.86 360.32h3v3h-3zM136.06 359.28h3v3h-3zM141.24 358.16h3v3h-3zM146.33 356.71h3v3h-3zM151.23 354.7h3v3h-3zM156.08 352.55h3v3h-3zM161.12 350.94h3v3h-3zM166.22 349.48h3v3h-3zM171.27 347.89h3v3h-3zM176.29 346.19h3v3h-3zM181.28 344.39h3v3h-3zM186.21 342.45h3v3h-3zM191.11 340.43h3v3h-3zM196.05 338.51h3v3h-3zM201.01 336.63h3v3h-3zM205.98 334.8h3v3h-3zM210.99 333.07h3v3h-3zM216.04 331.46h3v3h-3zM221.12 329.95h3v3h-3zM226.21 328.47h3v3h-3zM231.3 326.98h3v3h-3zM236.37 325.44h3v3h-3zM241.43 323.87h3v3h-3zM246.49 322.29h3v3h-3zM251.55 320.73h3v3h-3zM256.62 319.18h3v3h-3zM261.68 317.62h3v3h-3zM266.75 316.05h3v3h-3zM271.81 314.47h3v3h-3zM276.84 312.8h3v3h-3zM281.85 311.09h3v3h-3zM286.93 309.58h3v3h-3zM292.01 308.07h3v3h-3zM297.04 306.4h3v3h-3zM302.04 304.63h3v3h-3zM307.06 302.92h3v3h-3zM312.11 301.33h3v3h-3zM317.2 299.83h3v3h-3zM322.31 298.44h3v3h-3zM327.45 297.15h3v3h-3z" fill="#f2eeee" shape-rendering="crispEdges"/>
<path d="M56.9 388.4h2.2v2.2h-2.2zM61.78 386.33h2.2v2.2h-2.2zM66.66 384.26h2.2v2.2h-2.2zM71.53 382.18h2.2v2.2h-2.2zM76.41 380.11h2.2v2.2h-2.2zM81.3 378.05h2.2v2.2h-2.2zM86.18 376h2.2v2.2h-2.2zM91.08 373.97h2.2v2.2h-2.2zM95.99 371.98h2.2v2.2h-2.2zM100.91 370.01h2.2v2.2h-2.2zM105.84 368.07h2.2v2.2h-2.2zM110.81 366.22h2.2v2.2h-2.2zM115.83 364.53h2.2v2.2h-2.2zM120.92 363.04h2.2v2.2h-2.2zM126.07 361.8h2.2v2.2h-2.2zM131.26 360.72h2.2v2.2h-2.2zM136.46 359.68h2.2v2.2h-2.2zM141.64 358.56h2.2v2.2h-2.2zM146.73 357.11h2.2v2.2h-2.2zM151.63 355.1h2.2v2.2h-2.2zM156.48 352.95h2.2v2.2h-2.2zM161.52 351.34h2.2v2.2h-2.2zM166.62 349.88h2.2v2.2h-2.2zM171.67 348.29h2.2v2.2h-2.2zM176.69 346.59h2.2v2.2h-2.2zM181.68 344.79h2.2v2.2h-2.2zM186.61 342.85h2.2v2.2h-2.2zM191.51 340.83h2.2v2.2h-2.2zM196.45 338.91h2.2v2.2h-2.2zM201.41 337.03h2.2v2.2h-2.2zM206.38 335.2h2.2v2.2h-2.2zM211.39 333.47h2.2v2.2h-2.2zM216.44 331.86h2.2v2.2h-2.2zM221.52 330.35h2.2v2.2h-2.2zM226.61 328.87h2.2v2.2h-2.2zM231.7 327.38h2.2v2.2h-2.2zM236.77 325.84h2.2v2.2h-2.2zM241.83 324.27h2.2v2.2h-2.2zM246.89 322.69h2.2v2.2h-2.2zM251.95 321.13h2.2v2.2h-2.2zM257.02 319.58h2.2v2.2h-2.2zM262.08 318.02h2.2v2.2h-2.2zM267.15 316.45h2.2v2.2h-2.2zM272.21 314.87h2.2v2.2h-2.2zM277.24 313.2h2.2v2.2h-2.2zM282.25 311.49h2.2v2.2h-2.2zM287.33 309.98h2.2v2.2h-2.2zM292.41 308.47h2.2v2.2h-2.2zM297.44 306.8h2.2v2.2h-2.2zM302.44 305.03h2.2v2.2h-2.2zM307.46 303.32h2.2v2.2h-2.2zM312.51 301.73h2.2v2.2h-2.2zM317.6 300.23h2.2v2.2h-2.2zM322.71 298.84h2.2v2.2h-2.2zM327.85 297.55h2.2v2.2h-2.2z" fill="#faad6c"/>
<path d="M55.5 418.4h3v3h-3zM60.62 417.03h3v3h-3zM65.74 415.66h3v3h-3zM70.84 414.22h3v3h-3zM75.91 412.66h3v3h-3zM80.95 411.04h3v3h-3zM85.97 409.34h3v3h-3zM90.95 407.52h3v3h-3zM95.87 405.56h3v3h-3zM100.72 403.42h3v3h-3zM105.53 401.18h3v3h-3zM110.32 398.92h3v3h-3zM115.13 396.7h3v3h-3zM120 394.6h3v3h-3zM124.96 392.73h3v3h-3zM129.99 391.07h3v3h-3zM135.05 389.5h3v3h-3zM140.11 387.91h3v3h-3zM145.08 386.08h3v3h-3zM149.86 383.8h3v3h-3zM154.51 381.26h3v3h-3zM159.33 379.06h3v3h-3zM164.24 377.06h3v3h-3zM169.19 375.17h3v3h-3zM174.17 373.34h3v3h-3zM179.19 371.64h3v3h-3zM184.24 370.05h3v3h-3zM189.33 368.57h3v3h-3zM194.43 367.12h3v3h-3zM199.51 365.61h3v3h-3zM204.56 364h3v3h-3zM209.55 362.22h3v3h-3zM214.45 360.2h3v3h-3zM219.25 357.95h3v3h-3zM224.07 355.76h3v3h-3zM229 353.81h3v3h-3zM233.93 351.86h3v3h-3zM238.72 349.59h3v3h-3zM243.42 347.14h3v3h-3zM248.24 344.95h3v3h-3zM253.25 343.21h3v3h-3zM258.26 341.49h3v3h-3zM263.17 339.5h3v3h-3zM268.04 337.4h3v3h-3zM272.91 335.32h3v3h-3zM277.79 333.25h3v3h-3zM282.66 331.16h3v3h-3zM287.5 329h3v3h-3zM292.29 326.73h3v3h-3zM297.03 324.36h3v3h-3zM301.74 321.93h3v3h-3zM306.46 319.52h3v3h-3zM311.22 317.18h3v3h-3zM315.97 314.82h3v3h-3zM320.67 312.39h3v3h-3zM325.37 309.93h3v3h-3zM330.06 307.46h3v3h-3z" fill="#f2eeee" shape-rendering="crispEdges"/>
<path d="M55.9 418.8h2.2v2.2h-2.2zM61.02 417.43h2.2v2.2h-2.2zM66.14 416.06h2.2v2.2h-2.2zM71.24 414.62h2.2v2.2h-2.2zM76.31 413.06h2.2v2.2h-2.2zM81.35 411.44h2.2v2.2h-2.2zM86.37 409.74h2.2v2.2h-2.2zM91.35 407.92h2.2v2.2h-2.2zM96.27 405.96h2.2v2.2h-2.2zM101.12 403.82h2.2v2.2h-2.2zM105.93 401.58h2.2v2.2h-2.2zM110.72 399.32h2.2v2.2h-2.2zM115.53 397.1h2.2v2.2h-2.2zM120.4 395h2.2v2.2h-2.2zM125.36 393.13h2.2v2.2h-2.2zM130.39 391.47h2.2v2.2h-2.2zM135.45 389.9h2.2v2.2h-2.2zM140.51 388.31h2.2v2.2h-2.2zM145.48 386.48h2.2v2.2h-2.2zM150.26 384.2h2.2v2.2h-2.2zM154.91 381.66h2.2v2.2h-2.2zM159.73 379.46h2.2v2.2h-2.2zM164.64 377.46h2.2v2.2h-2.2zM169.59 375.57h2.2v2.2h-2.2zM174.57 373.74h2.2v2.2h-2.2zM179.59 372.04h2.2v2.2h-2.2zM184.64 370.45h2.2v2.2h-2.2zM189.73 368.97h2.2v2.2h-2.2zM194.83 367.52h2.2v2.2h-2.2zM199.91 366.01h2.2v2.2h-2.2zM204.96 364.4h2.2v2.2h-2.2zM209.95 362.62h2.2v2.2h-2.2zM214.85 360.6h2.2v2.2h-2.2zM219.65 358.35h2.2v2.2h-2.2zM224.47 356.16h2.2v2.2h-2.2zM229.4 354.21h2.2v2.2h-2.2zM234.33 352.26h2.2v2.2h-2.2zM239.12 349.99h2.2v2.2h-2.2zM243.82 347.54h2.2v2.2h-2.2zM248.64 345.35h2.2v2.2h-2.2zM253.65 343.61h2.2v2.2h-2.2zM258.66 341.89h2.2v2.2h-2.2zM263.57 339.9h2.2v2.2h-2.2zM268.44 337.8h2.2v2.2h-2.2zM273.31 335.72h2.2v2.2h-2.2zM278.19 333.65h2.2v2.2h-2.2zM283.06 331.56h2.2v2.2h-2.2zM287.9 329.4h2.2v2.2h-2.2zM292.69 327.13h2.2v2.2h-2.2zM297.43 324.76h2.2v2.2h-2.2zM302.14 322.33h2.2v2.2h-2.2zM306.86 319.92h2.2v2.2h-2.2zM311.62 317.58h2.2v2.2h-2.2zM316.37 315.22h2.2v2.2h-2.2zM321.07 312.79h2.2v2.2h-2.2zM325.77 310.33h2.2v2.2h-2.2zM330.46 307.86h2.2v2.2h-2.2z" fill="#75a3bd"/>
<g clip-path="url(#cp3)"><path d="M56 347.6 C59.28 346.73 68.98 344.13 75.7 342.4 C82.42 340.67 89.42 338.93 96.3 337.2 C103.18 335.47 108.05 334.23 117 332 C125.95 329.77 141 325.7 150 323.8 C159 321.9 163.97 321.83 171 320.6 C178.03 319.37 185.15 317.8 192.2 316.4 C199.25 315 206.27 313.78 213.3 312.2 C220.33 310.62 229.12 308.25 234.4 306.9 C239.68 305.55 239.9 305.57 245 304.1 C250.1 302.63 260 299.68 265 298.1 C270 296.52 271.67 295.6 275 294.6 C278.33 293.6 281.67 292.68 285 292.1 C288.33 291.52 291.67 291.43 295 291.1 C298.33 290.77 301.65 290.43 305 290.1 C308.35 289.77 311.73 289.77 315.1 289.1 C318.47 288.43 321.63 287.28 325.2 286.1 C328.77 284.92 334.62 282.68 336.5 282" fill="none" stroke="#f2eeee" stroke-width="3.6" stroke-linejoin="round" shape-rendering="crispEdges"/>
<path d="M56 347.6 C59.28 346.73 68.98 344.13 75.7 342.4 C82.42 340.67 89.42 338.93 96.3 337.2 C103.18 335.47 108.05 334.23 117 332 C125.95 329.77 141 325.7 150 323.8 C159 321.9 163.97 321.83 171 320.6 C178.03 319.37 185.15 317.8 192.2 316.4 C199.25 315 206.27 313.78 213.3 312.2 C220.33 310.62 229.12 308.25 234.4 306.9 C239.68 305.55 239.9 305.57 245 304.1 C250.1 302.63 260 299.68 265 298.1 C270 296.52 271.67 295.6 275 294.6 C278.33 293.6 281.67 292.68 285 292.1 C288.33 291.52 291.67 291.43 295 291.1 C298.33 290.77 301.65 290.43 305 290.1 C308.35 289.77 311.73 289.77 315.1 289.1 C318.47 288.43 321.63 287.28 325.2 286.1 C328.77 284.92 334.62 282.68 336.5 282" fill="none" stroke="#eb8d91" stroke-width="2.2" stroke-linejoin="round"/></g>
<g clip-path="url(#cp3)"><path d="M56 391 C59.28 389.97 68.98 387.38 75.7 384.8 C82.42 382.22 89.42 378.3 96.3 375.5 C103.18 372.7 110.12 370.08 117 368 C123.88 365.92 131.27 364.5 137.6 363 C143.93 361.5 149.43 360.17 155 359 C160.57 357.83 165.17 357.42 171 356 C176.83 354.58 182.95 352.35 190 350.5 C197.05 348.65 205.9 346.85 213.3 344.9 C220.7 342.95 228.28 340.38 234.4 338.8 C240.52 337.22 244.07 336.57 250 335.4 C255.93 334.23 264.17 333 270 331.8 C275.83 330.6 279.17 329.2 285 328.2 C290.83 327.2 298.3 326.53 305 325.8 C311.7 325.07 319.95 324.22 325.2 323.8 C330.45 323.38 334.62 323.38 336.5 323.3" fill="none" stroke="#f2eeee" stroke-width="3.6" stroke-linejoin="round" shape-rendering="crispEdges"/>
<path d="M56 391 C59.28 389.97 68.98 387.38 75.7 384.8 C82.42 382.22 89.42 378.3 96.3 375.5 C103.18 372.7 110.12 370.08 117 368 C123.88 365.92 131.27 364.5 137.6 363 C143.93 361.5 149.43 360.17 155 359 C160.57 357.83 165.17 357.42 171 356 C176.83 354.58 182.95 352.35 190 350.5 C197.05 348.65 205.9 346.85 213.3 344.9 C220.7 342.95 228.28 340.38 234.4 338.8 C240.52 337.22 244.07 336.57 250 335.4 C255.93 334.23 264.17 333 270 331.8 C275.83 330.6 279.17 329.2 285 328.2 C290.83 327.2 298.3 326.53 305 325.8 C311.7 325.07 319.95 324.22 325.2 323.8 C330.45 323.38 334.62 323.38 336.5 323.3" fill="none" stroke="#faad6c" stroke-width="2.2" stroke-linejoin="round"/></g>
<g clip-path="url(#cp3)"><path d="M56 405.4 C59.28 404.72 68.98 402.68 75.7 401.3 C82.42 399.92 88.92 398.67 96.3 397.1 C103.68 395.53 111.05 393.92 120 391.9 C128.95 389.88 141.67 386.9 150 385 C158.33 383.1 163.33 382.07 170 380.5 C176.67 378.93 182.83 377.45 190 375.6 C197.17 373.75 205.6 371.5 213 369.4 C220.4 367.3 228.23 364.65 234.4 363 C240.57 361.35 244.07 361 250 359.5 C255.93 358 263.93 355.63 270 354 C276.07 352.37 280.23 351.45 286.4 349.7 C292.57 347.95 298.65 346.15 307 343.5 C315.35 340.85 331.58 335.42 336.5 333.8" fill="none" stroke="#f2eeee" stroke-width="3.6" stroke-linejoin="round" shape-rendering="crispEdges"/>
<path d="M56 405.4 C59.28 404.72 68.98 402.68 75.7 401.3 C82.42 399.92 88.92 398.67 96.3 397.1 C103.68 395.53 111.05 393.92 120 391.9 C128.95 389.88 141.67 386.9 150 385 C158.33 383.1 163.33 382.07 170 380.5 C176.67 378.93 182.83 377.45 190 375.6 C197.17 373.75 205.6 371.5 213 369.4 C220.4 367.3 228.23 364.65 234.4 363 C240.57 361.35 244.07 361 250 359.5 C255.93 358 263.93 355.63 270 354 C276.07 352.37 280.23 351.45 286.4 349.7 C292.57 347.95 298.65 346.15 307 343.5 C315.35 340.85 331.58 335.42 336.5 333.8" fill="none" stroke="#75a3bd" stroke-width="2.2" stroke-linejoin="round"/></g>
<path d="M394.3 317.9h3v3h-3zM399.57 318.49h3v3h-3zM404.83 319.09h3v3h-3zM410.1 319.69h3v3h-3zM415.36 320.33h3v3h-3zM420.64 320.75h3v3h-3zM425.94 320.87h3v3h-3zM431.24 320.9h3v3h-3zM436.54 320.92h3v3h-3zM441.84 320.92h3v3h-3zM447.14 320.92h3v3h-3zM452.44 320.92h3v3h-3zM457.74 320.91h3v3h-3zM463.04 320.91h3v3h-3zM468.34 320.9h3v3h-3zM473.64 320.9h3v3h-3zM478.94 320.9h3v3h-3zM484.24 320.9h3v3h-3zM489.54 320.9h3v3h-3zM494.84 320.9h3v3h-3zM500.14 320.9h3v3h-3zM505.44 320.9h3v3h-3zM510.74 320.9h3v3h-3zM516.04 320.9h3v3h-3zM521.34 320.9h3v3h-3zM526.64 320.9h3v3h-3zM531.94 320.9h3v3h-3zM537.24 320.9h3v3h-3zM542.54 320.9h3v3h-3zM547.84 320.9h3v3h-3zM553.14 320.9h3v3h-3zM558.44 320.9h3v3h-3zM563.74 320.9h3v3h-3zM569.04 320.9h3v3h-3zM574.34 320.9h3v3h-3zM579.64 320.9h3v3h-3zM584.94 320.9h3v3h-3zM590.24 320.9h3v3h-3zM595.54 320.9h3v3h-3zM600.84 320.9h3v3h-3zM606.14 320.9h3v3h-3zM611.44 320.9h3v3h-3zM616.74 320.9h3v3h-3zM622.04 320.9h3v3h-3z" fill="#f2eeee" shape-rendering="crispEdges"/>
<path d="M394.7 318.3h2.2v2.2h-2.2zM399.97 318.89h2.2v2.2h-2.2zM405.23 319.49h2.2v2.2h-2.2zM410.5 320.09h2.2v2.2h-2.2zM415.76 320.73h2.2v2.2h-2.2zM421.04 321.15h2.2v2.2h-2.2zM426.34 321.27h2.2v2.2h-2.2zM431.64 321.3h2.2v2.2h-2.2zM436.94 321.32h2.2v2.2h-2.2zM442.24 321.32h2.2v2.2h-2.2zM447.54 321.32h2.2v2.2h-2.2zM452.84 321.32h2.2v2.2h-2.2zM458.14 321.31h2.2v2.2h-2.2zM463.44 321.31h2.2v2.2h-2.2zM468.74 321.3h2.2v2.2h-2.2zM474.04 321.3h2.2v2.2h-2.2zM479.34 321.3h2.2v2.2h-2.2zM484.64 321.3h2.2v2.2h-2.2zM489.94 321.3h2.2v2.2h-2.2zM495.24 321.3h2.2v2.2h-2.2zM500.54 321.3h2.2v2.2h-2.2zM505.84 321.3h2.2v2.2h-2.2zM511.14 321.3h2.2v2.2h-2.2zM516.44 321.3h2.2v2.2h-2.2zM521.74 321.3h2.2v2.2h-2.2zM527.04 321.3h2.2v2.2h-2.2zM532.34 321.3h2.2v2.2h-2.2zM537.64 321.3h2.2v2.2h-2.2zM542.94 321.3h2.2v2.2h-2.2zM548.24 321.3h2.2v2.2h-2.2zM553.54 321.3h2.2v2.2h-2.2zM558.84 321.3h2.2v2.2h-2.2zM564.14 321.3h2.2v2.2h-2.2zM569.44 321.3h2.2v2.2h-2.2zM574.74 321.3h2.2v2.2h-2.2zM580.04 321.3h2.2v2.2h-2.2zM585.34 321.3h2.2v2.2h-2.2zM590.64 321.3h2.2v2.2h-2.2zM595.94 321.3h2.2v2.2h-2.2zM601.24 321.3h2.2v2.2h-2.2zM606.54 321.3h2.2v2.2h-2.2zM611.84 321.3h2.2v2.2h-2.2zM617.14 321.3h2.2v2.2h-2.2zM622.44 321.3h2.2v2.2h-2.2z" fill="#eb8d91"/>
<path d="M395.3 383.4h3v3h-3zM400.16 385.51h3v3h-3zM405.28 386.87h3v3h-3zM410.51 387.7h3v3h-3zM415.79 388.15h3v3h-3zM421.08 388.4h3v3h-3zM426.38 388.48h3v3h-3zM431.68 388.52h3v3h-3zM436.98 388.55h3v3h-3zM442.28 388.58h3v3h-3zM447.58 388.6h3v3h-3zM452.88 388.62h3v3h-3zM458.18 388.64h3v3h-3zM463.48 388.66h3v3h-3zM468.78 388.67h3v3h-3zM474.08 388.69h3v3h-3zM479.38 388.7h3v3h-3zM484.68 388.72h3v3h-3zM489.98 388.73h3v3h-3zM495.28 388.74h3v3h-3zM500.58 388.75h3v3h-3zM505.88 388.76h3v3h-3zM511.18 388.77h3v3h-3zM516.48 388.78h3v3h-3zM521.78 388.78h3v3h-3zM527.08 388.79h3v3h-3zM532.38 388.8h3v3h-3zM537.68 388.8h3v3h-3zM542.98 388.8h3v3h-3zM548.28 388.8h3v3h-3zM553.58 388.81h3v3h-3zM558.88 388.81h3v3h-3zM564.18 388.81h3v3h-3zM569.48 388.81h3v3h-3zM574.78 388.81h3v3h-3zM580.08 388.81h3v3h-3zM585.38 388.81h3v3h-3zM590.68 388.81h3v3h-3zM595.98 388.8h3v3h-3zM601.28 388.8h3v3h-3zM606.58 388.8h3v3h-3zM611.88 388.8h3v3h-3zM617.18 388.8h3v3h-3z" fill="#f2eeee" shape-rendering="crispEdges"/>
<path d="M395.7 383.8h2.2v2.2h-2.2zM400.56 385.91h2.2v2.2h-2.2zM405.68 387.27h2.2v2.2h-2.2zM410.91 388.1h2.2v2.2h-2.2zM416.19 388.55h2.2v2.2h-2.2zM421.48 388.8h2.2v2.2h-2.2zM426.78 388.88h2.2v2.2h-2.2zM432.08 388.92h2.2v2.2h-2.2zM437.38 388.95h2.2v2.2h-2.2zM442.68 388.98h2.2v2.2h-2.2zM447.98 389h2.2v2.2h-2.2zM453.28 389.02h2.2v2.2h-2.2zM458.58 389.04h2.2v2.2h-2.2zM463.88 389.06h2.2v2.2h-2.2zM469.18 389.07h2.2v2.2h-2.2zM474.48 389.09h2.2v2.2h-2.2zM479.78 389.1h2.2v2.2h-2.2zM485.08 389.12h2.2v2.2h-2.2zM490.38 389.13h2.2v2.2h-2.2zM495.68 389.14h2.2v2.2h-2.2zM500.98 389.15h2.2v2.2h-2.2zM506.28 389.16h2.2v2.2h-2.2zM511.58 389.17h2.2v2.2h-2.2zM516.88 389.18h2.2v2.2h-2.2zM522.18 389.18h2.2v2.2h-2.2zM527.48 389.19h2.2v2.2h-2.2zM532.78 389.2h2.2v2.2h-2.2zM538.08 389.2h2.2v2.2h-2.2zM543.38 389.2h2.2v2.2h-2.2zM548.68 389.2h2.2v2.2h-2.2zM553.98 389.21h2.2v2.2h-2.2zM559.28 389.21h2.2v2.2h-2.2zM564.58 389.21h2.2v2.2h-2.2zM569.88 389.21h2.2v2.2h-2.2zM575.18 389.21h2.2v2.2h-2.2zM580.48 389.21h2.2v2.2h-2.2zM585.78 389.21h2.2v2.2h-2.2zM591.08 389.21h2.2v2.2h-2.2zM596.38 389.2h2.2v2.2h-2.2zM601.68 389.2h2.2v2.2h-2.2zM606.98 389.2h2.2v2.2h-2.2zM612.28 389.2h2.2v2.2h-2.2zM617.58 389.2h2.2v2.2h-2.2z" fill="#75a3bd"/>
<path d="M395.3 301.8h3v3h-3zM399.95 304.33h3v3h-3zM404.9 306.22h3v3h-3zM410.05 307.47h3v3h-3zM415.19 308.74h3v3h-3zM420.31 310.11h3v3h-3zM425.29 311.92h3v3h-3zM430.06 314.22h3v3h-3zM434.63 316.9h3v3h-3zM438.95 319.97h3v3h-3zM443.24 323.08h3v3h-3zM447.57 326.15h3v3h-3zM451.94 329.13h3v3h-3zM456.43 331.95h3v3h-3zM461.01 334.62h3v3h-3zM465.68 337.13h3v3h-3zM470.47 339.4h3v3h-3zM475.42 341.27h3v3h-3zM480.47 342.9h3v3h-3zM485.6 344.18h3v3h-3zM490.78 345.27h3v3h-3zM495.73 347.17h3v3h-3zM500.76 348.84h3v3h-3zM505.84 350.35h3v3h-3zM510.9 351.92h3v3h-3zM516 353.38h3v3h-3zM521.2 354.39h3v3h-3zM526.45 355.06h3v3h-3zM531.74 355.39h3v3h-3zM537.04 355.55h3v3h-3zM542.34 355.69h3v3h-3zM547.64 355.75h3v3h-3zM552.94 355.79h3v3h-3zM558.24 355.82h3v3h-3zM563.54 355.84h3v3h-3zM568.84 355.86h3v3h-3zM574.14 355.88h3v3h-3zM579.44 355.89h3v3h-3zM584.74 355.91h3v3h-3zM590.04 355.92h3v3h-3zM595.34 355.93h3v3h-3zM600.64 355.95h3v3h-3zM605.94 355.96h3v3h-3zM611.24 355.97h3v3h-3zM616.54 355.99h3v3h-3zM621.84 356h3v3h-3z" fill="#f2eeee" shape-rendering="crispEdges"/>
<path d="M395.7 302.2h2.2v2.2h-2.2zM400.35 304.73h2.2v2.2h-2.2zM405.3 306.62h2.2v2.2h-2.2zM410.45 307.87h2.2v2.2h-2.2zM415.59 309.14h2.2v2.2h-2.2zM420.71 310.51h2.2v2.2h-2.2zM425.69 312.32h2.2v2.2h-2.2zM430.46 314.62h2.2v2.2h-2.2zM435.03 317.3h2.2v2.2h-2.2zM439.35 320.37h2.2v2.2h-2.2zM443.64 323.48h2.2v2.2h-2.2zM447.97 326.55h2.2v2.2h-2.2zM452.34 329.53h2.2v2.2h-2.2zM456.83 332.35h2.2v2.2h-2.2zM461.41 335.02h2.2v2.2h-2.2zM466.08 337.53h2.2v2.2h-2.2zM470.87 339.8h2.2v2.2h-2.2zM475.82 341.67h2.2v2.2h-2.2zM480.87 343.3h2.2v2.2h-2.2zM486 344.58h2.2v2.2h-2.2zM491.18 345.67h2.2v2.2h-2.2zM496.13 347.57h2.2v2.2h-2.2zM501.16 349.24h2.2v2.2h-2.2zM506.24 350.75h2.2v2.2h-2.2zM511.3 352.32h2.2v2.2h-2.2zM516.4 353.78h2.2v2.2h-2.2zM521.6 354.79h2.2v2.2h-2.2zM526.85 355.46h2.2v2.2h-2.2zM532.14 355.79h2.2v2.2h-2.2zM537.44 355.95h2.2v2.2h-2.2zM542.74 356.09h2.2v2.2h-2.2zM548.04 356.15h2.2v2.2h-2.2zM553.34 356.19h2.2v2.2h-2.2zM558.64 356.22h2.2v2.2h-2.2zM563.94 356.24h2.2v2.2h-2.2zM569.24 356.26h2.2v2.2h-2.2zM574.54 356.28h2.2v2.2h-2.2zM579.84 356.29h2.2v2.2h-2.2zM585.14 356.31h2.2v2.2h-2.2zM590.44 356.32h2.2v2.2h-2.2zM595.74 356.33h2.2v2.2h-2.2zM601.04 356.35h2.2v2.2h-2.2zM606.34 356.36h2.2v2.2h-2.2zM611.64 356.37h2.2v2.2h-2.2zM616.94 356.39h2.2v2.2h-2.2zM622.24 356.4h2.2v2.2h-2.2z" fill="#faad6c"/>
<path d="M622 356h3v3h-3zM622.32 350.71h3v3h-3zM622.64 345.42h3v3h-3zM622.97 340.13h3v3h-3zM623.29 334.84h3v3h-3zM623.61 329.55h3v3h-3zM623.93 324.26h3v3h-3zM624.25 318.97h3v3h-3zM624.58 313.68h3v3h-3zM624.9 308.39h3v3h-3zM625.22 303.1h3v3h-3zM625.99 298.01h3v3h-3zM629.69 294.78h3v3h-3zM632.73 299.12h3v3h-3zM634.49 294.9h3v3h-3zM636.13 289.86h3v3h-3zM637.77 284.82h3v3h-3zM639.41 279.78h3v3h-3zM642.85 283.22h3v3h-3zM645.11 281.1h3v3h-3zM646.74 276.06h3v3h-3zM648.38 271.02h3v3h-3zM650.02 265.98h3v3h-3zM653.96 263.06h3v3h-3z" fill="#f2eeee" shape-rendering="crispEdges"/>
<path d="M622.4 356.4h2.2v2.2h-2.2zM622.72 351.11h2.2v2.2h-2.2zM623.04 345.82h2.2v2.2h-2.2zM623.37 340.53h2.2v2.2h-2.2zM623.69 335.24h2.2v2.2h-2.2zM624.01 329.95h2.2v2.2h-2.2zM624.33 324.66h2.2v2.2h-2.2zM624.65 319.37h2.2v2.2h-2.2zM624.98 314.08h2.2v2.2h-2.2zM625.3 308.79h2.2v2.2h-2.2zM625.62 303.5h2.2v2.2h-2.2zM626.39 298.41h2.2v2.2h-2.2zM630.09 295.18h2.2v2.2h-2.2zM633.13 299.52h2.2v2.2h-2.2zM634.89 295.3h2.2v2.2h-2.2zM636.53 290.26h2.2v2.2h-2.2zM638.17 285.22h2.2v2.2h-2.2zM639.81 280.18h2.2v2.2h-2.2zM643.25 283.62h2.2v2.2h-2.2zM645.51 281.5h2.2v2.2h-2.2zM647.14 276.46h2.2v2.2h-2.2zM648.78 271.42h2.2v2.2h-2.2zM650.42 266.38h2.2v2.2h-2.2zM654.36 263.46h2.2v2.2h-2.2z" fill="#faad6c"/>
<g clip-path="url(#cp4)"><path d="M394 326 C395.42 326.48 399.5 328.27 402.5 328.9 C405.5 329.53 408.75 329.53 412 329.8 C415.25 330.07 418.17 330.33 422 330.5 C425.83 330.67 425.33 330.75 435 330.8 C444.67 330.85 462.5 330.8 480 330.8 C497.5 330.8 516 330.8 540 330.8 C564 330.8 610 330.8 624 330.8" fill="none" stroke="#f2eeee" stroke-width="3.6" stroke-linejoin="round" shape-rendering="crispEdges"/>
<path d="M394 326 C395.42 326.48 399.5 328.27 402.5 328.9 C405.5 329.53 408.75 329.53 412 329.8 C415.25 330.07 418.17 330.33 422 330.5 C425.83 330.67 425.33 330.75 435 330.8 C444.67 330.85 462.5 330.8 480 330.8 C497.5 330.8 516 330.8 540 330.8 C564 330.8 610 330.8 624 330.8" fill="none" stroke="#eb8d91" stroke-width="2.2" stroke-linejoin="round"/></g>
<g clip-path="url(#cp4)"><path d="M394 393 C394.67 393.4 396.48 394.73 398 395.4 C399.52 396.07 400.77 396.52 403.1 397 C405.43 397.48 408.83 397.97 412 398.3 C415.17 398.63 418.27 398.85 422.1 399 C425.93 399.15 425.35 399.15 435 399.2 C444.65 399.25 462.5 399.28 480 399.3 C497.5 399.32 516 399.3 540 399.3 C564 399.3 610 399.3 624 399.3" fill="none" stroke="#f2eeee" stroke-width="3.6" stroke-linejoin="round" shape-rendering="crispEdges"/>
<path d="M394 393 C394.67 393.4 396.48 394.73 398 395.4 C399.52 396.07 400.77 396.52 403.1 397 C405.43 397.48 408.83 397.97 412 398.3 C415.17 398.63 418.27 398.85 422.1 399 C425.93 399.15 425.35 399.15 435 399.2 C444.65 399.25 462.5 399.28 480 399.3 C497.5 399.32 516 399.3 540 399.3 C564 399.3 610 399.3 624 399.3" fill="none" stroke="#75a3bd" stroke-width="2.2" stroke-linejoin="round"/></g>
<g clip-path="url(#cp4)"><path d="M394 307.1 C394.78 307.58 396.97 309.22 398.7 310 C400.43 310.78 402.18 311.33 404.4 311.8 C406.62 312.27 409.15 312.32 412 312.8 C414.85 313.28 418.33 314.07 421.5 314.7 C424.67 315.33 427.85 315.97 431 316.6 C434.15 317.23 437.23 317.55 440.4 318.5 C443.57 319.45 446.83 320.57 450 322.3 C453.17 324.03 456.23 326.53 459.4 328.9 C462.57 331.27 465.83 334.07 469 336.5 C472.17 338.93 474.98 341.37 478.4 343.5 C481.82 345.63 486.07 347.53 489.5 349.3 C492.93 351.07 495.83 352.67 499 354.1 C502.17 355.53 505.33 356.63 508.5 357.9 C511.67 359.17 514.85 360.6 518 361.7 C521.15 362.8 524.23 363.75 527.4 364.5 C530.57 365.25 534.15 366.03 537 366.2 C539.85 366.37 541.98 365.3 544.5 365.5 C547.02 365.7 548.62 367.07 552.1 367.4 C555.58 367.73 560.75 367.48 565.4 367.5 C570.05 367.52 570.23 367.48 580 367.5 C589.77 367.52 616.67 367.58 624 367.6 L624 367.6 L629.5 303.7 L635.3 313.2 L641.6 287.2 L648 300 L653.7 274 L660 272.7" fill="none" stroke="#f2eeee" stroke-width="3.6" stroke-linejoin="round" shape-rendering="crispEdges"/>
<path d="M394 307.1 C394.78 307.58 396.97 309.22 398.7 310 C400.43 310.78 402.18 311.33 404.4 311.8 C406.62 312.27 409.15 312.32 412 312.8 C414.85 313.28 418.33 314.07 421.5 314.7 C424.67 315.33 427.85 315.97 431 316.6 C434.15 317.23 437.23 317.55 440.4 318.5 C443.57 319.45 446.83 320.57 450 322.3 C453.17 324.03 456.23 326.53 459.4 328.9 C462.57 331.27 465.83 334.07 469 336.5 C472.17 338.93 474.98 341.37 478.4 343.5 C481.82 345.63 486.07 347.53 489.5 349.3 C492.93 351.07 495.83 352.67 499 354.1 C502.17 355.53 505.33 356.63 508.5 357.9 C511.67 359.17 514.85 360.6 518 361.7 C521.15 362.8 524.23 363.75 527.4 364.5 C530.57 365.25 534.15 366.03 537 366.2 C539.85 366.37 541.98 365.3 544.5 365.5 C547.02 365.7 548.62 367.07 552.1 367.4 C555.58 367.73 560.75 367.48 565.4 367.5 C570.05 367.52 570.23 367.48 580 367.5 C589.77 367.52 616.67 367.58 624 367.6 L624 367.6 L629.5 303.7 L635.3 313.2 L641.6 287.2 L648 300 L653.7 274 L660 272.7" fill="none" stroke="#faad6c" stroke-width="2.2" stroke-linejoin="round"/></g>
<path d="M56.4 180.4L56.4 176.8 M56.4 7.45L56.4 11.05 M102.05 180.4L102.05 176.8 M102.05 7.45L102.05 11.05 M162.4 180.4L162.4 176.8 M162.4 7.45L162.4 11.05 M208.05 180.4L208.05 176.8 M208.05 7.45L208.05 11.05 M253.69 180.4L253.69 176.8 M253.69 7.45L253.69 11.05 M314.04 180.4L314.04 176.8 M314.04 7.45L314.04 11.05 M83.1 180.4L83.1 177.5 M83.1 7.45L83.1 10.35 M128.75 180.4L128.75 177.5 M128.75 7.45L128.75 10.35 M147.7 180.4L147.7 177.5 M147.7 7.45L147.7 10.35 M174.4 180.4L174.4 177.5 M174.4 7.45L174.4 10.35 M184.55 180.4L184.55 177.5 M184.55 7.45L184.55 10.35 M193.35 180.4L193.35 177.5 M193.35 7.45L193.35 10.35 M201.11 180.4L201.11 177.5 M201.11 7.45L201.11 10.35 M234.75 180.4L234.75 177.5 M234.75 7.45L234.75 10.35 M280.4 180.4L280.4 177.5 M280.4 7.45L280.4 10.35 M299.34 180.4L299.34 177.5 M299.34 7.45L299.34 10.35 M326.05 180.4L326.05 177.5 M326.05 7.45L326.05 10.35 M336.2 180.4L336.2 177.5 M336.2 7.45L336.2 10.35 M56.4 180.4L60 180.4 M336.2 180.4L332.6 180.4 M56.4 169.99L59.3 169.99 M336.2 169.99L333.3 169.99 M56.4 163.9L59.3 163.9 M336.2 163.9L333.3 163.9 M56.4 159.57L59.3 159.57 M336.2 159.57L333.3 159.57 M56.4 156.22L59.3 156.22 M336.2 156.22L333.3 156.22 M56.4 153.48L59.3 153.48 M336.2 153.48L333.3 153.48 M56.4 151.17L59.3 151.17 M336.2 151.17L333.3 151.17 M56.4 149.16L59.3 149.16 M336.2 149.16L333.3 149.16 M56.4 147.39L59.3 147.39 M336.2 147.39L333.3 147.39 M56.4 145.81L60 145.81 M336.2 145.81L332.6 145.81 M56.4 135.4L59.3 135.4 M336.2 135.4L333.3 135.4 M56.4 129.31L59.3 129.31 M336.2 129.31L333.3 129.31 M56.4 124.98L59.3 124.98 M336.2 124.98L333.3 124.98 M56.4 121.63L59.3 121.63 M336.2 121.63L333.3 121.63 M56.4 118.89L59.3 118.89 M336.2 118.89L333.3 118.89 M56.4 116.58L59.3 116.58 M336.2 116.58L333.3 116.58 M56.4 114.57L59.3 114.57 M336.2 114.57L333.3 114.57 M56.4 112.8L59.3 112.8 M336.2 112.8L333.3 112.8 M56.4 111.22L60 111.22 M336.2 111.22L332.6 111.22 M56.4 100.81L59.3 100.81 M336.2 100.81L333.3 100.81 M56.4 94.72L59.3 94.72 M336.2 94.72L333.3 94.72 M56.4 90.39L59.3 90.39 M336.2 90.39L333.3 90.39 M56.4 87.04L59.3 87.04 M336.2 87.04L333.3 87.04 M56.4 84.3L59.3 84.3 M336.2 84.3L333.3 84.3 M56.4 81.99L59.3 81.99 M336.2 81.99L333.3 81.99 M56.4 79.98L59.3 79.98 M336.2 79.98L333.3 79.98 M56.4 78.21L59.3 78.21 M336.2 78.21L333.3 78.21 M56.4 76.63L60 76.63 M336.2 76.63L332.6 76.63 M56.4 66.22L59.3 66.22 M336.2 66.22L333.3 66.22 M56.4 60.13L59.3 60.13 M336.2 60.13L333.3 60.13 M56.4 55.8L59.3 55.8 M336.2 55.8L333.3 55.8 M56.4 52.45L59.3 52.45 M336.2 52.45L333.3 52.45 M56.4 49.71L59.3 49.71 M336.2 49.71L333.3 49.71 M56.4 47.4L59.3 47.4 M336.2 47.4L333.3 47.4 M56.4 45.39L59.3 45.39 M336.2 45.39L333.3 45.39 M56.4 43.62L59.3 43.62 M336.2 43.62L333.3 43.62 M56.4 42.04L60 42.04 M336.2 42.04L332.6 42.04 M56.4 31.63L59.3 31.63 M336.2 31.63L333.3 31.63 M56.4 25.54L59.3 25.54 M336.2 25.54L333.3 25.54 M56.4 21.21L59.3 21.21 M336.2 21.21L333.3 21.21 M56.4 17.86L59.3 17.86 M336.2 17.86L333.3 17.86 M56.4 15.12L59.3 15.12 M336.2 15.12L333.3 15.12 M56.4 12.81L59.3 12.81 M336.2 12.81L333.3 12.81 M56.4 10.8L59.3 10.8 M336.2 10.8L333.3 10.8 M56.4 9.03L59.3 9.03 M336.2 9.03L333.3 9.03 M56.4 7.45L60 7.45 M336.2 7.45L332.6 7.45" stroke="#d0d0d0" stroke-width="1.5" fill="none"/>
<path d="M56.4 180.4L56.4 176.8 M56.4 7.45L56.4 11.05 M102.05 180.4L102.05 176.8 M102.05 7.45L102.05 11.05 M162.4 180.4L162.4 176.8 M162.4 7.45L162.4 11.05 M208.05 180.4L208.05 176.8 M208.05 7.45L208.05 11.05 M253.69 180.4L253.69 176.8 M253.69 7.45L253.69 11.05 M314.04 180.4L314.04 176.8 M314.04 7.45L314.04 11.05 M83.1 180.4L83.1 177.5 M83.1 7.45L83.1 10.35 M128.75 180.4L128.75 177.5 M128.75 7.45L128.75 10.35 M147.7 180.4L147.7 177.5 M147.7 7.45L147.7 10.35 M174.4 180.4L174.4 177.5 M174.4 7.45L174.4 10.35 M184.55 180.4L184.55 177.5 M184.55 7.45L184.55 10.35 M193.35 180.4L193.35 177.5 M193.35 7.45L193.35 10.35 M201.11 180.4L201.11 177.5 M201.11 7.45L201.11 10.35 M234.75 180.4L234.75 177.5 M234.75 7.45L234.75 10.35 M280.4 180.4L280.4 177.5 M280.4 7.45L280.4 10.35 M299.34 180.4L299.34 177.5 M299.34 7.45L299.34 10.35 M326.05 180.4L326.05 177.5 M326.05 7.45L326.05 10.35 M336.2 180.4L336.2 177.5 M336.2 7.45L336.2 10.35 M56.4 180.4L60 180.4 M336.2 180.4L332.6 180.4 M56.4 169.99L59.3 169.99 M336.2 169.99L333.3 169.99 M56.4 163.9L59.3 163.9 M336.2 163.9L333.3 163.9 M56.4 159.57L59.3 159.57 M336.2 159.57L333.3 159.57 M56.4 156.22L59.3 156.22 M336.2 156.22L333.3 156.22 M56.4 153.48L59.3 153.48 M336.2 153.48L333.3 153.48 M56.4 151.17L59.3 151.17 M336.2 151.17L333.3 151.17 M56.4 149.16L59.3 149.16 M336.2 149.16L333.3 149.16 M56.4 147.39L59.3 147.39 M336.2 147.39L333.3 147.39 M56.4 145.81L60 145.81 M336.2 145.81L332.6 145.81 M56.4 135.4L59.3 135.4 M336.2 135.4L333.3 135.4 M56.4 129.31L59.3 129.31 M336.2 129.31L333.3 129.31 M56.4 124.98L59.3 124.98 M336.2 124.98L333.3 124.98 M56.4 121.63L59.3 121.63 M336.2 121.63L333.3 121.63 M56.4 118.89L59.3 118.89 M336.2 118.89L333.3 118.89 M56.4 116.58L59.3 116.58 M336.2 116.58L333.3 116.58 M56.4 114.57L59.3 114.57 M336.2 114.57L333.3 114.57 M56.4 112.8L59.3 112.8 M336.2 112.8L333.3 112.8 M56.4 111.22L60 111.22 M336.2 111.22L332.6 111.22 M56.4 100.81L59.3 100.81 M336.2 100.81L333.3 100.81 M56.4 94.72L59.3 94.72 M336.2 94.72L333.3 94.72 M56.4 90.39L59.3 90.39 M336.2 90.39L333.3 90.39 M56.4 87.04L59.3 87.04 M336.2 87.04L333.3 87.04 M56.4 84.3L59.3 84.3 M336.2 84.3L333.3 84.3 M56.4 81.99L59.3 81.99 M336.2 81.99L333.3 81.99 M56.4 79.98L59.3 79.98 M336.2 79.98L333.3 79.98 M56.4 78.21L59.3 78.21 M336.2 78.21L333.3 78.21 M56.4 76.63L60 76.63 M336.2 76.63L332.6 76.63 M56.4 66.22L59.3 66.22 M336.2 66.22L333.3 66.22 M56.4 60.13L59.3 60.13 M336.2 60.13L333.3 60.13 M56.4 55.8L59.3 55.8 M336.2 55.8L333.3 55.8 M56.4 52.45L59.3 52.45 M336.2 52.45L333.3 52.45 M56.4 49.71L59.3 49.71 M336.2 49.71L333.3 49.71 M56.4 47.4L59.3 47.4 M336.2 47.4L333.3 47.4 M56.4 45.39L59.3 45.39 M336.2 45.39L333.3 45.39 M56.4 43.62L59.3 43.62 M336.2 43.62L333.3 43.62 M56.4 42.04L60 42.04 M336.2 42.04L332.6 42.04 M56.4 31.63L59.3 31.63 M336.2 31.63L333.3 31.63 M56.4 25.54L59.3 25.54 M336.2 25.54L333.3 25.54 M56.4 21.21L59.3 21.21 M336.2 21.21L333.3 21.21 M56.4 17.86L59.3 17.86 M336.2 17.86L333.3 17.86 M56.4 15.12L59.3 15.12 M336.2 15.12L333.3 15.12 M56.4 12.81L59.3 12.81 M336.2 12.81L333.3 12.81 M56.4 10.8L59.3 10.8 M336.2 10.8L333.3 10.8 M56.4 9.03L59.3 9.03 M336.2 9.03L333.3 9.03 M56.4 7.45L60 7.45 M336.2 7.45L332.6 7.45" stroke="#707070" stroke-width="0.8" fill="none"/>
<rect x="56.4" y="7.45" width="279.8" height="172.95" fill="none" stroke="#d6d6d6" stroke-width="2.7"/>
<rect x="56.4" y="7.45" width="279.8" height="172.95" fill="none" stroke="#a6a6a6" stroke-width="1.2"/>
<path d="M394 185L394 181.4 M394 10.5L394 14.1 M404.57 185L404.57 182.1 M404.57 10.5L404.57 13.4 M410.76 185L410.76 182.1 M410.76 10.5L410.76 13.4 M415.15 185L415.15 182.1 M415.15 10.5L415.15 13.4 M418.55 185L418.55 182.1 M418.55 10.5L418.55 13.4 M421.33 185L421.33 182.1 M421.33 10.5L421.33 13.4 M423.68 185L423.68 182.1 M423.68 10.5L423.68 13.4 M425.72 185L425.72 182.1 M425.72 10.5L425.72 13.4 M427.52 185L427.52 182.1 M427.52 10.5L427.52 13.4 M429.12 185L429.12 181.4 M429.12 10.5L429.12 14.1 M439.7 185L439.7 182.1 M439.7 10.5L439.7 13.4 M445.88 185L445.88 182.1 M445.88 10.5L445.88 13.4 M450.27 185L450.27 182.1 M450.27 10.5L450.27 13.4 M453.68 185L453.68 182.1 M453.68 10.5L453.68 13.4 M456.46 185L456.46 182.1 M456.46 10.5L456.46 13.4 M458.81 185L458.81 182.1 M458.81 10.5L458.81 13.4 M460.85 185L460.85 182.1 M460.85 10.5L460.85 13.4 M462.64 185L462.64 182.1 M462.64 10.5L462.64 13.4 M464.25 185L464.25 181.4 M464.25 10.5L464.25 14.1 M474.82 185L474.82 182.1 M474.82 10.5L474.82 13.4 M481.01 185L481.01 182.1 M481.01 10.5L481.01 13.4 M485.4 185L485.4 182.1 M485.4 10.5L485.4 13.4 M488.8 185L488.8 182.1 M488.8 10.5L488.8 13.4 M491.58 185L491.58 182.1 M491.58 10.5L491.58 13.4 M493.93 185L493.93 182.1 M493.93 10.5L493.93 13.4 M495.97 185L495.97 182.1 M495.97 10.5L495.97 13.4 M497.77 185L497.77 182.1 M497.77 10.5L497.77 13.4 M499.38 185L499.38 181.4 M499.38 10.5L499.38 14.1 M509.95 185L509.95 182.1 M509.95 10.5L509.95 13.4 M516.13 185L516.13 182.1 M516.13 10.5L516.13 13.4 M520.52 185L520.52 182.1 M520.52 10.5L520.52 13.4 M523.93 185L523.93 182.1 M523.93 10.5L523.93 13.4 M526.71 185L526.71 182.1 M526.71 10.5L526.71 13.4 M529.06 185L529.06 182.1 M529.06 10.5L529.06 13.4 M531.1 185L531.1 182.1 M531.1 10.5L531.1 13.4 M532.89 185L532.89 182.1 M532.89 10.5L532.89 13.4 M534.5 185L534.5 181.4 M534.5 10.5L534.5 14.1 M545.07 185L545.07 182.1 M545.07 10.5L545.07 13.4 M551.26 185L551.26 182.1 M551.26 10.5L551.26 13.4 M555.65 185L555.65 182.1 M555.65 10.5L555.65 13.4 M559.05 185L559.05 182.1 M559.05 10.5L559.05 13.4 M561.83 185L561.83 182.1 M561.83 10.5L561.83 13.4 M564.18 185L564.18 182.1 M564.18 10.5L564.18 13.4 M566.22 185L566.22 182.1 M566.22 10.5L566.22 13.4 M568.02 185L568.02 182.1 M568.02 10.5L568.02 13.4 M569.62 185L569.62 181.4 M569.62 10.5L569.62 14.1 M580.2 185L580.2 182.1 M580.2 10.5L580.2 13.4 M586.38 185L586.38 182.1 M586.38 10.5L586.38 13.4 M590.77 185L590.77 182.1 M590.77 10.5L590.77 13.4 M594.18 185L594.18 182.1 M594.18 10.5L594.18 13.4 M596.96 185L596.96 182.1 M596.96 10.5L596.96 13.4 M599.31 185L599.31 182.1 M599.31 10.5L599.31 13.4 M601.35 185L601.35 182.1 M601.35 10.5L601.35 13.4 M603.14 185L603.14 182.1 M603.14 10.5L603.14 13.4 M604.75 185L604.75 181.4 M604.75 10.5L604.75 14.1 M615.32 185L615.32 182.1 M615.32 10.5L615.32 13.4 M621.51 185L621.51 182.1 M621.51 10.5L621.51 13.4 M625.9 185L625.9 182.1 M625.9 10.5L625.9 13.4 M629.3 185L629.3 182.1 M629.3 10.5L629.3 13.4 M632.08 185L632.08 182.1 M632.08 10.5L632.08 13.4 M634.43 185L634.43 182.1 M634.43 10.5L634.43 13.4 M636.47 185L636.47 182.1 M636.47 10.5L636.47 13.4 M638.27 185L638.27 182.1 M638.27 10.5L638.27 13.4 M639.88 185L639.88 181.4 M639.88 10.5L639.88 14.1 M650.45 185L650.45 182.1 M650.45 10.5L650.45 13.4 M656.63 185L656.63 182.1 M656.63 10.5L656.63 13.4 M661.02 185L661.02 182.1 M661.02 10.5L661.02 13.4 M664.43 185L664.43 182.1 M664.43 10.5L664.43 13.4 M667.21 185L667.21 182.1 M667.21 10.5L667.21 13.4 M669.56 185L669.56 182.1 M669.56 10.5L669.56 13.4 M671.6 185L671.6 182.1 M671.6 10.5L671.6 13.4 M673.39 185L673.39 182.1 M673.39 10.5L673.39 13.4 M675 185L675 181.4 M675 10.5L675 14.1 M394 179.91L396.9 179.91 M675 179.91L672.1 179.91 M394 175.08L396.9 175.08 M675 175.08L672.1 175.08 M394 171.13L396.9 171.13 M675 171.13L672.1 171.13 M394 167.79L396.9 167.79 M675 167.79L672.1 167.79 M394 164.9L396.9 164.9 M675 164.9L672.1 164.9 M394 162.35L396.9 162.35 M675 162.35L672.1 162.35 M394 160.07L397.6 160.07 M675 160.07L671.4 160.07 M394 145.06L396.9 145.06 M675 145.06L672.1 145.06 M394 136.28L396.9 136.28 M675 136.28L672.1 136.28 M394 130.05L396.9 130.05 M675 130.05L672.1 130.05 M394 125.22L396.9 125.22 M675 125.22L672.1 125.22 M394 121.28L396.9 121.28 M675 121.28L672.1 121.28 M394 117.94L396.9 117.94 M675 117.94L672.1 117.94 M394 115.05L396.9 115.05 M675 115.05L672.1 115.05 M394 112.5L396.9 112.5 M675 112.5L672.1 112.5 M394 110.21L397.6 110.21 M675 110.21L671.4 110.21 M394 95.21L396.9 95.21 M675 95.21L672.1 95.21 M394 86.43L396.9 86.43 M675 86.43L672.1 86.43 M394 80.2L396.9 80.2 M675 80.2L672.1 80.2 M394 75.37L396.9 75.37 M675 75.37L672.1 75.37 M394 71.42L396.9 71.42 M675 71.42L672.1 71.42 M394 68.08L396.9 68.08 M675 68.08L672.1 68.08 M394 65.19L396.9 65.19 M675 65.19L672.1 65.19 M394 62.64L396.9 62.64 M675 62.64L672.1 62.64 M394 60.36L397.6 60.36 M675 60.36L671.4 60.36 M394 45.35L396.9 45.35 M675 45.35L672.1 45.35 M394 36.57L396.9 36.57 M675 36.57L672.1 36.57 M394 30.34L396.9 30.34 M675 30.34L672.1 30.34 M394 25.51L396.9 25.51 M675 25.51L672.1 25.51 M394 21.56L396.9 21.56 M675 21.56L672.1 21.56 M394 18.22L396.9 18.22 M675 18.22L672.1 18.22 M394 15.33L396.9 15.33 M675 15.33L672.1 15.33 M394 12.78L396.9 12.78 M675 12.78L672.1 12.78 M394 10.5L397.6 10.5 M675 10.5L671.4 10.5" stroke="#d0d0d0" stroke-width="1.5" fill="none"/>
<path d="M394 185L394 181.4 M394 10.5L394 14.1 M404.57 185L404.57 182.1 M404.57 10.5L404.57 13.4 M410.76 185L410.76 182.1 M410.76 10.5L410.76 13.4 M415.15 185L415.15 182.1 M415.15 10.5L415.15 13.4 M418.55 185L418.55 182.1 M418.55 10.5L418.55 13.4 M421.33 185L421.33 182.1 M421.33 10.5L421.33 13.4 M423.68 185L423.68 182.1 M423.68 10.5L423.68 13.4 M425.72 185L425.72 182.1 M425.72 10.5L425.72 13.4 M427.52 185L427.52 182.1 M427.52 10.5L427.52 13.4 M429.12 185L429.12 181.4 M429.12 10.5L429.12 14.1 M439.7 185L439.7 182.1 M439.7 10.5L439.7 13.4 M445.88 185L445.88 182.1 M445.88 10.5L445.88 13.4 M450.27 185L450.27 182.1 M450.27 10.5L450.27 13.4 M453.68 185L453.68 182.1 M453.68 10.5L453.68 13.4 M456.46 185L456.46 182.1 M456.46 10.5L456.46 13.4 M458.81 185L458.81 182.1 M458.81 10.5L458.81 13.4 M460.85 185L460.85 182.1 M460.85 10.5L460.85 13.4 M462.64 185L462.64 182.1 M462.64 10.5L462.64 13.4 M464.25 185L464.25 181.4 M464.25 10.5L464.25 14.1 M474.82 185L474.82 182.1 M474.82 10.5L474.82 13.4 M481.01 185L481.01 182.1 M481.01 10.5L481.01 13.4 M485.4 185L485.4 182.1 M485.4 10.5L485.4 13.4 M488.8 185L488.8 182.1 M488.8 10.5L488.8 13.4 M491.58 185L491.58 182.1 M491.58 10.5L491.58 13.4 M493.93 185L493.93 182.1 M493.93 10.5L493.93 13.4 M495.97 185L495.97 182.1 M495.97 10.5L495.97 13.4 M497.77 185L497.77 182.1 M497.77 10.5L497.77 13.4 M499.38 185L499.38 181.4 M499.38 10.5L499.38 14.1 M509.95 185L509.95 182.1 M509.95 10.5L509.95 13.4 M516.13 185L516.13 182.1 M516.13 10.5L516.13 13.4 M520.52 185L520.52 182.1 M520.52 10.5L520.52 13.4 M523.93 185L523.93 182.1 M523.93 10.5L523.93 13.4 M526.71 185L526.71 182.1 M526.71 10.5L526.71 13.4 M529.06 185L529.06 182.1 M529.06 10.5L529.06 13.4 M531.1 185L531.1 182.1 M531.1 10.5L531.1 13.4 M532.89 185L532.89 182.1 M532.89 10.5L532.89 13.4 M534.5 185L534.5 181.4 M534.5 10.5L534.5 14.1 M545.07 185L545.07 182.1 M545.07 10.5L545.07 13.4 M551.26 185L551.26 182.1 M551.26 10.5L551.26 13.4 M555.65 185L555.65 182.1 M555.65 10.5L555.65 13.4 M559.05 185L559.05 182.1 M559.05 10.5L559.05 13.4 M561.83 185L561.83 182.1 M561.83 10.5L561.83 13.4 M564.18 185L564.18 182.1 M564.18 10.5L564.18 13.4 M566.22 185L566.22 182.1 M566.22 10.5L566.22 13.4 M568.02 185L568.02 182.1 M568.02 10.5L568.02 13.4 M569.62 185L569.62 181.4 M569.62 10.5L569.62 14.1 M580.2 185L580.2 182.1 M580.2 10.5L580.2 13.4 M586.38 185L586.38 182.1 M586.38 10.5L586.38 13.4 M590.77 185L590.77 182.1 M590.77 10.5L590.77 13.4 M594.18 185L594.18 182.1 M594.18 10.5L594.18 13.4 M596.96 185L596.96 182.1 M596.96 10.5L596.96 13.4 M599.31 185L599.31 182.1 M599.31 10.5L599.31 13.4 M601.35 185L601.35 182.1 M601.35 10.5L601.35 13.4 M603.14 185L603.14 182.1 M603.14 10.5L603.14 13.4 M604.75 185L604.75 181.4 M604.75 10.5L604.75 14.1 M615.32 185L615.32 182.1 M615.32 10.5L615.32 13.4 M621.51 185L621.51 182.1 M621.51 10.5L621.51 13.4 M625.9 185L625.9 182.1 M625.9 10.5L625.9 13.4 M629.3 185L629.3 182.1 M629.3 10.5L629.3 13.4 M632.08 185L632.08 182.1 M632.08 10.5L632.08 13.4 M634.43 185L634.43 182.1 M634.43 10.5L634.43 13.4 M636.47 185L636.47 182.1 M636.47 10.5L636.47 13.4 M638.27 185L638.27 182.1 M638.27 10.5L638.27 13.4 M639.88 185L639.88 181.4 M639.88 10.5L639.88 14.1 M650.45 185L650.45 182.1 M650.45 10.5L650.45 13.4 M656.63 185L656.63 182.1 M656.63 10.5L656.63 13.4 M661.02 185L661.02 182.1 M661.02 10.5L661.02 13.4 M664.43 185L664.43 182.1 M664.43 10.5L664.43 13.4 M667.21 185L667.21 182.1 M667.21 10.5L667.21 13.4 M669.56 185L669.56 182.1 M669.56 10.5L669.56 13.4 M671.6 185L671.6 182.1 M671.6 10.5L671.6 13.4 M673.39 185L673.39 182.1 M673.39 10.5L673.39 13.4 M675 185L675 181.4 M675 10.5L675 14.1 M394 179.91L396.9 179.91 M675 179.91L672.1 179.91 M394 175.08L396.9 175.08 M675 175.08L672.1 175.08 M394 171.13L396.9 171.13 M675 171.13L672.1 171.13 M394 167.79L396.9 167.79 M675 167.79L672.1 167.79 M394 164.9L396.9 164.9 M675 164.9L672.1 164.9 M394 162.35L396.9 162.35 M675 162.35L672.1 162.35 M394 160.07L397.6 160.07 M675 160.07L671.4 160.07 M394 145.06L396.9 145.06 M675 145.06L672.1 145.06 M394 136.28L396.9 136.28 M675 136.28L672.1 136.28 M394 130.05L396.9 130.05 M675 130.05L672.1 130.05 M394 125.22L396.9 125.22 M675 125.22L672.1 125.22 M394 121.28L396.9 121.28 M675 121.28L672.1 121.28 M394 117.94L396.9 117.94 M675 117.94L672.1 117.94 M394 115.05L396.9 115.05 M675 115.05L672.1 115.05 M394 112.5L396.9 112.5 M675 112.5L672.1 112.5 M394 110.21L397.6 110.21 M675 110.21L671.4 110.21 M394 95.21L396.9 95.21 M675 95.21L672.1 95.21 M394 86.43L396.9 86.43 M675 86.43L672.1 86.43 M394 80.2L396.9 80.2 M675 80.2L672.1 80.2 M394 75.37L396.9 75.37 M675 75.37L672.1 75.37 M394 71.42L396.9 71.42 M675 71.42L672.1 71.42 M394 68.08L396.9 68.08 M675 68.08L672.1 68.08 M394 65.19L396.9 65.19 M675 65.19L672.1 65.19 M394 62.64L396.9 62.64 M675 62.64L672.1 62.64 M394 60.36L397.6 60.36 M675 60.36L671.4 60.36 M394 45.35L396.9 45.35 M675 45.35L672.1 45.35 M394 36.57L396.9 36.57 M675 36.57L672.1 36.57 M394 30.34L396.9 30.34 M675 30.34L672.1 30.34 M394 25.51L396.9 25.51 M675 25.51L672.1 25.51 M394 21.56L396.9 21.56 M675 21.56L672.1 21.56 M394 18.22L396.9 18.22 M675 18.22L672.1 18.22 M394 15.33L396.9 15.33 M675 15.33L672.1 15.33 M394 12.78L396.9 12.78 M675 12.78L672.1 12.78 M394 10.5L397.6 10.5 M675 10.5L671.4 10.5" stroke="#707070" stroke-width="0.8" fill="none"/>
<rect x="394" y="10.5" width="281" height="174.5" fill="none" stroke="#d6d6d6" stroke-width="2.7"/>
<rect x="394" y="10.5" width="281" height="174.5" fill="none" stroke="#a6a6a6" stroke-width="1.2"/>
<path d="M56.4 425.8L56.4 422.2 M56.4 253L56.4 256.6 M102.1 425.8L102.1 422.2 M102.1 253L102.1 256.6 M162.51 425.8L162.51 422.2 M162.51 253L162.51 256.6 M208.21 425.8L208.21 422.2 M208.21 253L208.21 256.6 M253.91 425.8L253.91 422.2 M253.91 253L253.91 256.6 M314.32 425.8L314.32 422.2 M314.32 253L314.32 256.6 M83.13 425.8L83.13 422.9 M83.13 253L83.13 255.9 M128.83 425.8L128.83 422.9 M128.83 253L128.83 255.9 M147.8 425.8L147.8 422.9 M147.8 253L147.8 255.9 M174.53 425.8L174.53 422.9 M174.53 253L174.53 255.9 M184.69 425.8L184.69 422.9 M184.69 253L184.69 255.9 M193.5 425.8L193.5 422.9 M193.5 253L193.5 255.9 M201.26 425.8L201.26 422.9 M201.26 253L201.26 255.9 M234.94 425.8L234.94 422.9 M234.94 253L234.94 255.9 M280.64 425.8L280.64 422.9 M280.64 253L280.64 255.9 M299.6 425.8L299.6 422.9 M299.6 253L299.6 255.9 M326.34 425.8L326.34 422.9 M326.34 253L326.34 255.9 M336.5 425.8L336.5 422.9 M336.5 253L336.5 255.9 M56.4 425.8L60 425.8 M336.5 425.8L332.9 425.8 M56.4 417.13L59.3 417.13 M336.5 417.13L333.6 417.13 M56.4 412.06L59.3 412.06 M336.5 412.06L333.6 412.06 M56.4 408.46L59.3 408.46 M336.5 408.46L333.6 408.46 M56.4 405.67L59.3 405.67 M336.5 405.67L333.6 405.67 M56.4 403.39L59.3 403.39 M336.5 403.39L333.6 403.39 M56.4 401.46L59.3 401.46 M336.5 401.46L333.6 401.46 M56.4 399.79L59.3 399.79 M336.5 399.79L333.6 399.79 M56.4 398.32L59.3 398.32 M336.5 398.32L333.6 398.32 M56.4 397L60 397 M336.5 397L332.9 397 M56.4 388.33L59.3 388.33 M336.5 388.33L333.6 388.33 M56.4 383.26L59.3 383.26 M336.5 383.26L333.6 383.26 M56.4 379.66L59.3 379.66 M336.5 379.66L333.6 379.66 M56.4 376.87L59.3 376.87 M336.5 376.87L333.6 376.87 M56.4 374.59L59.3 374.59 M336.5 374.59L333.6 374.59 M56.4 372.66L59.3 372.66 M336.5 372.66L333.6 372.66 M56.4 370.99L59.3 370.99 M336.5 370.99L333.6 370.99 M56.4 369.52L59.3 369.52 M336.5 369.52L333.6 369.52 M56.4 368.2L60 368.2 M336.5 368.2L332.9 368.2 M56.4 359.53L59.3 359.53 M336.5 359.53L333.6 359.53 M56.4 354.46L59.3 354.46 M336.5 354.46L333.6 354.46 M56.4 350.86L59.3 350.86 M336.5 350.86L333.6 350.86 M56.4 348.07L59.3 348.07 M336.5 348.07L333.6 348.07 M56.4 345.79L59.3 345.79 M336.5 345.79L333.6 345.79 M56.4 343.86L59.3 343.86 M336.5 343.86L333.6 343.86 M56.4 342.19L59.3 342.19 M336.5 342.19L333.6 342.19 M56.4 340.72L59.3 340.72 M336.5 340.72L333.6 340.72 M56.4 339.4L60 339.4 M336.5 339.4L332.9 339.4 M56.4 330.73L59.3 330.73 M336.5 330.73L333.6 330.73 M56.4 325.66L59.3 325.66 M336.5 325.66L333.6 325.66 M56.4 322.06L59.3 322.06 M336.5 322.06L333.6 322.06 M56.4 319.27L59.3 319.27 M336.5 319.27L333.6 319.27 M56.4 316.99L59.3 316.99 M336.5 316.99L333.6 316.99 M56.4 315.06L59.3 315.06 M336.5 315.06L333.6 315.06 M56.4 313.39L59.3 313.39 M336.5 313.39L333.6 313.39 M56.4 311.92L59.3 311.92 M336.5 311.92L333.6 311.92 M56.4 310.6L60 310.6 M336.5 310.6L332.9 310.6 M56.4 301.93L59.3 301.93 M336.5 301.93L333.6 301.93 M56.4 296.86L59.3 296.86 M336.5 296.86L333.6 296.86 M56.4 293.26L59.3 293.26 M336.5 293.26L333.6 293.26 M56.4 290.47L59.3 290.47 M336.5 290.47L333.6 290.47 M56.4 288.19L59.3 288.19 M336.5 288.19L333.6 288.19 M56.4 286.26L59.3 286.26 M336.5 286.26L333.6 286.26 M56.4 284.59L59.3 284.59 M336.5 284.59L333.6 284.59 M56.4 283.12L59.3 283.12 M336.5 283.12L333.6 283.12 M56.4 281.8L60 281.8 M336.5 281.8L332.9 281.8 M56.4 273.13L59.3 273.13 M336.5 273.13L333.6 273.13 M56.4 268.06L59.3 268.06 M336.5 268.06L333.6 268.06 M56.4 264.46L59.3 264.46 M336.5 264.46L333.6 264.46 M56.4 261.67L59.3 261.67 M336.5 261.67L333.6 261.67 M56.4 259.39L59.3 259.39 M336.5 259.39L333.6 259.39 M56.4 257.46L59.3 257.46 M336.5 257.46L333.6 257.46 M56.4 255.79L59.3 255.79 M336.5 255.79L333.6 255.79 M56.4 254.32L59.3 254.32 M336.5 254.32L333.6 254.32 M56.4 253L60 253 M336.5 253L332.9 253" stroke="#d0d0d0" stroke-width="1.5" fill="none"/>
<path d="M56.4 425.8L56.4 422.2 M56.4 253L56.4 256.6 M102.1 425.8L102.1 422.2 M102.1 253L102.1 256.6 M162.51 425.8L162.51 422.2 M162.51 253L162.51 256.6 M208.21 425.8L208.21 422.2 M208.21 253L208.21 256.6 M253.91 425.8L253.91 422.2 M253.91 253L253.91 256.6 M314.32 425.8L314.32 422.2 M314.32 253L314.32 256.6 M83.13 425.8L83.13 422.9 M83.13 253L83.13 255.9 M128.83 425.8L128.83 422.9 M128.83 253L128.83 255.9 M147.8 425.8L147.8 422.9 M147.8 253L147.8 255.9 M174.53 425.8L174.53 422.9 M174.53 253L174.53 255.9 M184.69 425.8L184.69 422.9 M184.69 253L184.69 255.9 M193.5 425.8L193.5 422.9 M193.5 253L193.5 255.9 M201.26 425.8L201.26 422.9 M201.26 253L201.26 255.9 M234.94 425.8L234.94 422.9 M234.94 253L234.94 255.9 M280.64 425.8L280.64 422.9 M280.64 253L280.64 255.9 M299.6 425.8L299.6 422.9 M299.6 253L299.6 255.9 M326.34 425.8L326.34 422.9 M326.34 253L326.34 255.9 M336.5 425.8L336.5 422.9 M336.5 253L336.5 255.9 M56.4 425.8L60 425.8 M336.5 425.8L332.9 425.8 M56.4 417.13L59.3 417.13 M336.5 417.13L333.6 417.13 M56.4 412.06L59.3 412.06 M336.5 412.06L333.6 412.06 M56.4 408.46L59.3 408.46 M336.5 408.46L333.6 408.46 M56.4 405.67L59.3 405.67 M336.5 405.67L333.6 405.67 M56.4 403.39L59.3 403.39 M336.5 403.39L333.6 403.39 M56.4 401.46L59.3 401.46 M336.5 401.46L333.6 401.46 M56.4 399.79L59.3 399.79 M336.5 399.79L333.6 399.79 M56.4 398.32L59.3 398.32 M336.5 398.32L333.6 398.32 M56.4 397L60 397 M336.5 397L332.9 397 M56.4 388.33L59.3 388.33 M336.5 388.33L333.6 388.33 M56.4 383.26L59.3 383.26 M336.5 383.26L333.6 383.26 M56.4 379.66L59.3 379.66 M336.5 379.66L333.6 379.66 M56.4 376.87L59.3 376.87 M336.5 376.87L333.6 376.87 M56.4 374.59L59.3 374.59 M336.5 374.59L333.6 374.59 M56.4 372.66L59.3 372.66 M336.5 372.66L333.6 372.66 M56.4 370.99L59.3 370.99 M336.5 370.99L333.6 370.99 M56.4 369.52L59.3 369.52 M336.5 369.52L333.6 369.52 M56.4 368.2L60 368.2 M336.5 368.2L332.9 368.2 M56.4 359.53L59.3 359.53 M336.5 359.53L333.6 359.53 M56.4 354.46L59.3 354.46 M336.5 354.46L333.6 354.46 M56.4 350.86L59.3 350.86 M336.5 350.86L333.6 350.86 M56.4 348.07L59.3 348.07 M336.5 348.07L333.6 348.07 M56.4 345.79L59.3 345.79 M336.5 345.79L333.6 345.79 M56.4 343.86L59.3 343.86 M336.5 343.86L333.6 343.86 M56.4 342.19L59.3 342.19 M336.5 342.19L333.6 342.19 M56.4 340.72L59.3 340.72 M336.5 340.72L333.6 340.72 M56.4 339.4L60 339.4 M336.5 339.4L332.9 339.4 M56.4 330.73L59.3 330.73 M336.5 330.73L333.6 330.73 M56.4 325.66L59.3 325.66 M336.5 325.66L333.6 325.66 M56.4 322.06L59.3 322.06 M336.5 322.06L333.6 322.06 M56.4 319.27L59.3 319.27 M336.5 319.27L333.6 319.27 M56.4 316.99L59.3 316.99 M336.5 316.99L333.6 316.99 M56.4 315.06L59.3 315.06 M336.5 315.06L333.6 315.06 M56.4 313.39L59.3 313.39 M336.5 313.39L333.6 313.39 M56.4 311.92L59.3 311.92 M336.5 311.92L333.6 311.92 M56.4 310.6L60 310.6 M336.5 310.6L332.9 310.6 M56.4 301.93L59.3 301.93 M336.5 301.93L333.6 301.93 M56.4 296.86L59.3 296.86 M336.5 296.86L333.6 296.86 M56.4 293.26L59.3 293.26 M336.5 293.26L333.6 293.26 M56.4 290.47L59.3 290.47 M336.5 290.47L333.6 290.47 M56.4 288.19L59.3 288.19 M336.5 288.19L333.6 288.19 M56.4 286.26L59.3 286.26 M336.5 286.26L333.6 286.26 M56.4 284.59L59.3 284.59 M336.5 284.59L333.6 284.59 M56.4 283.12L59.3 283.12 M336.5 283.12L333.6 283.12 M56.4 281.8L60 281.8 M336.5 281.8L332.9 281.8 M56.4 273.13L59.3 273.13 M336.5 273.13L333.6 273.13 M56.4 268.06L59.3 268.06 M336.5 268.06L333.6 268.06 M56.4 264.46L59.3 264.46 M336.5 264.46L333.6 264.46 M56.4 261.67L59.3 261.67 M336.5 261.67L333.6 261.67 M56.4 259.39L59.3 259.39 M336.5 259.39L333.6 259.39 M56.4 257.46L59.3 257.46 M336.5 257.46L333.6 257.46 M56.4 255.79L59.3 255.79 M336.5 255.79L333.6 255.79 M56.4 254.32L59.3 254.32 M336.5 254.32L333.6 254.32 M56.4 253L60 253 M336.5 253L332.9 253" stroke="#707070" stroke-width="0.8" fill="none"/>
<rect x="56.4" y="253" width="280.1" height="172.8" fill="none" stroke="#d6d6d6" stroke-width="2.7"/>
<rect x="56.4" y="253" width="280.1" height="172.8" fill="none" stroke="#a6a6a6" stroke-width="1.2"/>
<path d="M394.2 429.7L394.2 426.1 M394.2 256.5L394.2 260.1 M404.77 429.7L404.77 426.8 M404.77 256.5L404.77 259.4 M410.95 429.7L410.95 426.8 M410.95 256.5L410.95 259.4 M415.33 429.7L415.33 426.8 M415.33 256.5L415.33 259.4 M418.73 429.7L418.73 426.8 M418.73 256.5L418.73 259.4 M421.51 429.7L421.51 426.8 M421.51 256.5L421.51 259.4 M423.86 429.7L423.86 426.8 M423.86 256.5L423.86 259.4 M425.9 429.7L425.9 426.8 M425.9 256.5L425.9 259.4 M427.69 429.7L427.69 426.8 M427.69 256.5L427.69 259.4 M429.3 429.7L429.3 426.1 M429.3 256.5L429.3 260.1 M439.87 429.7L439.87 426.8 M439.87 256.5L439.87 259.4 M446.05 429.7L446.05 426.8 M446.05 256.5L446.05 259.4 M450.43 429.7L450.43 426.8 M450.43 256.5L450.43 259.4 M453.83 429.7L453.83 426.8 M453.83 256.5L453.83 259.4 M456.61 429.7L456.61 426.8 M456.61 256.5L456.61 259.4 M458.96 429.7L458.96 426.8 M458.96 256.5L458.96 259.4 M461 429.7L461 426.8 M461 256.5L461 259.4 M462.79 429.7L462.79 426.8 M462.79 256.5L462.79 259.4 M464.4 429.7L464.4 426.1 M464.4 256.5L464.4 260.1 M474.97 429.7L474.97 426.8 M474.97 256.5L474.97 259.4 M481.15 429.7L481.15 426.8 M481.15 256.5L481.15 259.4 M485.53 429.7L485.53 426.8 M485.53 256.5L485.53 259.4 M488.93 429.7L488.93 426.8 M488.93 256.5L488.93 259.4 M491.71 429.7L491.71 426.8 M491.71 256.5L491.71 259.4 M494.06 429.7L494.06 426.8 M494.06 256.5L494.06 259.4 M496.1 429.7L496.1 426.8 M496.1 256.5L496.1 259.4 M497.89 429.7L497.89 426.8 M497.89 256.5L497.89 259.4 M499.5 429.7L499.5 426.1 M499.5 256.5L499.5 260.1 M510.07 429.7L510.07 426.8 M510.07 256.5L510.07 259.4 M516.25 429.7L516.25 426.8 M516.25 256.5L516.25 259.4 M520.63 429.7L520.63 426.8 M520.63 256.5L520.63 259.4 M524.03 429.7L524.03 426.8 M524.03 256.5L524.03 259.4 M526.81 429.7L526.81 426.8 M526.81 256.5L526.81 259.4 M529.16 429.7L529.16 426.8 M529.16 256.5L529.16 259.4 M531.2 429.7L531.2 426.8 M531.2 256.5L531.2 259.4 M532.99 429.7L532.99 426.8 M532.99 256.5L532.99 259.4 M534.6 429.7L534.6 426.1 M534.6 256.5L534.6 260.1 M545.17 429.7L545.17 426.8 M545.17 256.5L545.17 259.4 M551.35 429.7L551.35 426.8 M551.35 256.5L551.35 259.4 M555.73 429.7L555.73 426.8 M555.73 256.5L555.73 259.4 M559.13 429.7L559.13 426.8 M559.13 256.5L559.13 259.4 M561.91 429.7L561.91 426.8 M561.91 256.5L561.91 259.4 M564.26 429.7L564.26 426.8 M564.26 256.5L564.26 259.4 M566.3 429.7L566.3 426.8 M566.3 256.5L566.3 259.4 M568.09 429.7L568.09 426.8 M568.09 256.5L568.09 259.4 M569.7 429.7L569.7 426.1 M569.7 256.5L569.7 260.1 M580.27 429.7L580.27 426.8 M580.27 256.5L580.27 259.4 M586.45 429.7L586.45 426.8 M586.45 256.5L586.45 259.4 M590.83 429.7L590.83 426.8 M590.83 256.5L590.83 259.4 M594.23 429.7L594.23 426.8 M594.23 256.5L594.23 259.4 M597.01 429.7L597.01 426.8 M597.01 256.5L597.01 259.4 M599.36 429.7L599.36 426.8 M599.36 256.5L599.36 259.4 M601.4 429.7L601.4 426.8 M601.4 256.5L601.4 259.4 M603.19 429.7L603.19 426.8 M603.19 256.5L603.19 259.4 M604.8 429.7L604.8 426.1 M604.8 256.5L604.8 260.1 M615.37 429.7L615.37 426.8 M615.37 256.5L615.37 259.4 M621.55 429.7L621.55 426.8 M621.55 256.5L621.55 259.4 M625.93 429.7L625.93 426.8 M625.93 256.5L625.93 259.4 M629.33 429.7L629.33 426.8 M629.33 256.5L629.33 259.4 M632.11 429.7L632.11 426.8 M632.11 256.5L632.11 259.4 M634.46 429.7L634.46 426.8 M634.46 256.5L634.46 259.4 M636.5 429.7L636.5 426.8 M636.5 256.5L636.5 259.4 M638.29 429.7L638.29 426.8 M638.29 256.5L638.29 259.4 M639.9 429.7L639.9 426.1 M639.9 256.5L639.9 260.1 M650.47 429.7L650.47 426.8 M650.47 256.5L650.47 259.4 M656.65 429.7L656.65 426.8 M656.65 256.5L656.65 259.4 M661.03 429.7L661.03 426.8 M661.03 256.5L661.03 259.4 M664.43 429.7L664.43 426.8 M664.43 256.5L664.43 259.4 M667.21 429.7L667.21 426.8 M667.21 256.5L667.21 259.4 M669.56 429.7L669.56 426.8 M669.56 256.5L669.56 259.4 M671.6 429.7L671.6 426.8 M671.6 256.5L671.6 259.4 M673.39 429.7L673.39 426.8 M673.39 256.5L673.39 259.4 M675 429.7L675 426.1 M675 256.5L675 260.1 M394.2 429.7L397.8 429.7 M675 429.7L671.4 429.7 M394.2 419.27L397.1 419.27 M675 419.27L672.1 419.27 M394.2 413.17L397.1 413.17 M675 413.17L672.1 413.17 M394.2 408.84L397.1 408.84 M675 408.84L672.1 408.84 M394.2 405.49L397.1 405.49 M675 405.49L672.1 405.49 M394.2 402.74L397.1 402.74 M675 402.74L672.1 402.74 M394.2 400.43L397.1 400.43 M675 400.43L672.1 400.43 M394.2 398.42L397.1 398.42 M675 398.42L672.1 398.42 M394.2 396.65L397.1 396.65 M675 396.65L672.1 396.65 M394.2 395.06L397.8 395.06 M675 395.06L671.4 395.06 M394.2 384.63L397.1 384.63 M675 384.63L672.1 384.63 M394.2 378.53L397.1 378.53 M675 378.53L672.1 378.53 M394.2 374.2L397.1 374.2 M675 374.2L672.1 374.2 M394.2 370.85L397.1 370.85 M675 370.85L672.1 370.85 M394.2 368.1L397.1 368.1 M675 368.1L672.1 368.1 M394.2 365.79L397.1 365.79 M675 365.79L672.1 365.79 M394.2 363.78L397.1 363.78 M675 363.78L672.1 363.78 M394.2 362.01L397.1 362.01 M675 362.01L672.1 362.01 M394.2 360.42L397.8 360.42 M675 360.42L671.4 360.42 M394.2 349.99L397.1 349.99 M675 349.99L672.1 349.99 M394.2 343.89L397.1 343.89 M675 343.89L672.1 343.89 M394.2 339.56L397.1 339.56 M675 339.56L672.1 339.56 M394.2 336.21L397.1 336.21 M675 336.21L672.1 336.21 M394.2 333.46L397.1 333.46 M675 333.46L672.1 333.46 M394.2 331.15L397.1 331.15 M675 331.15L672.1 331.15 M394.2 329.14L397.1 329.14 M675 329.14L672.1 329.14 M394.2 327.37L397.1 327.37 M675 327.37L672.1 327.37 M394.2 325.78L397.8 325.78 M675 325.78L671.4 325.78 M394.2 315.35L397.1 315.35 M675 315.35L672.1 315.35 M394.2 309.25L397.1 309.25 M675 309.25L672.1 309.25 M394.2 304.92L397.1 304.92 M675 304.92L672.1 304.92 M394.2 301.57L397.1 301.57 M675 301.57L672.1 301.57 M394.2 298.82L397.1 298.82 M675 298.82L672.1 298.82 M394.2 296.51L397.1 296.51 M675 296.51L672.1 296.51 M394.2 294.5L397.1 294.5 M675 294.5L672.1 294.5 M394.2 292.73L397.1 292.73 M675 292.73L672.1 292.73 M394.2 291.14L397.8 291.14 M675 291.14L671.4 291.14 M394.2 280.71L397.1 280.71 M675 280.71L672.1 280.71 M394.2 274.61L397.1 274.61 M675 274.61L672.1 274.61 M394.2 270.28L397.1 270.28 M675 270.28L672.1 270.28 M394.2 266.93L397.1 266.93 M675 266.93L672.1 266.93 M394.2 264.18L397.1 264.18 M675 264.18L672.1 264.18 M394.2 261.87L397.1 261.87 M675 261.87L672.1 261.87 M394.2 259.86L397.1 259.86 M675 259.86L672.1 259.86 M394.2 258.09L397.1 258.09 M675 258.09L672.1 258.09 M394.2 256.5L397.8 256.5 M675 256.5L671.4 256.5" stroke="#d0d0d0" stroke-width="1.5" fill="none"/>
<path d="M394.2 429.7L394.2 426.1 M394.2 256.5L394.2 260.1 M404.77 429.7L404.77 426.8 M404.77 256.5L404.77 259.4 M410.95 429.7L410.95 426.8 M410.95 256.5L410.95 259.4 M415.33 429.7L415.33 426.8 M415.33 256.5L415.33 259.4 M418.73 429.7L418.73 426.8 M418.73 256.5L418.73 259.4 M421.51 429.7L421.51 426.8 M421.51 256.5L421.51 259.4 M423.86 429.7L423.86 426.8 M423.86 256.5L423.86 259.4 M425.9 429.7L425.9 426.8 M425.9 256.5L425.9 259.4 M427.69 429.7L427.69 426.8 M427.69 256.5L427.69 259.4 M429.3 429.7L429.3 426.1 M429.3 256.5L429.3 260.1 M439.87 429.7L439.87 426.8 M439.87 256.5L439.87 259.4 M446.05 429.7L446.05 426.8 M446.05 256.5L446.05 259.4 M450.43 429.7L450.43 426.8 M450.43 256.5L450.43 259.4 M453.83 429.7L453.83 426.8 M453.83 256.5L453.83 259.4 M456.61 429.7L456.61 426.8 M456.61 256.5L456.61 259.4 M458.96 429.7L458.96 426.8 M458.96 256.5L458.96 259.4 M461 429.7L461 426.8 M461 256.5L461 259.4 M462.79 429.7L462.79 426.8 M462.79 256.5L462.79 259.4 M464.4 429.7L464.4 426.1 M464.4 256.5L464.4 260.1 M474.97 429.7L474.97 426.8 M474.97 256.5L474.97 259.4 M481.15 429.7L481.15 426.8 M481.15 256.5L481.15 259.4 M485.53 429.7L485.53 426.8 M485.53 256.5L485.53 259.4 M488.93 429.7L488.93 426.8 M488.93 256.5L488.93 259.4 M491.71 429.7L491.71 426.8 M491.71 256.5L491.71 259.4 M494.06 429.7L494.06 426.8 M494.06 256.5L494.06 259.4 M496.1 429.7L496.1 426.8 M496.1 256.5L496.1 259.4 M497.89 429.7L497.89 426.8 M497.89 256.5L497.89 259.4 M499.5 429.7L499.5 426.1 M499.5 256.5L499.5 260.1 M510.07 429.7L510.07 426.8 M510.07 256.5L510.07 259.4 M516.25 429.7L516.25 426.8 M516.25 256.5L516.25 259.4 M520.63 429.7L520.63 426.8 M520.63 256.5L520.63 259.4 M524.03 429.7L524.03 426.8 M524.03 256.5L524.03 259.4 M526.81 429.7L526.81 426.8 M526.81 256.5L526.81 259.4 M529.16 429.7L529.16 426.8 M529.16 256.5L529.16 259.4 M531.2 429.7L531.2 426.8 M531.2 256.5L531.2 259.4 M532.99 429.7L532.99 426.8 M532.99 256.5L532.99 259.4 M534.6 429.7L534.6 426.1 M534.6 256.5L534.6 260.1 M545.17 429.7L545.17 426.8 M545.17 256.5L545.17 259.4 M551.35 429.7L551.35 426.8 M551.35 256.5L551.35 259.4 M555.73 429.7L555.73 426.8 M555.73 256.5L555.73 259.4 M559.13 429.7L559.13 426.8 M559.13 256.5L559.13 259.4 M561.91 429.7L561.91 426.8 M561.91 256.5L561.91 259.4 M564.26 429.7L564.26 426.8 M564.26 256.5L564.26 259.4 M566.3 429.7L566.3 426.8 M566.3 256.5L566.3 259.4 M568.09 429.7L568.09 426.8 M568.09 256.5L568.09 259.4 M569.7 429.7L569.7 426.1 M569.7 256.5L569.7 260.1 M580.27 429.7L580.27 426.8 M580.27 256.5L580.27 259.4 M586.45 429.7L586.45 426.8 M586.45 256.5L586.45 259.4 M590.83 429.7L590.83 426.8 M590.83 256.5L590.83 259.4 M594.23 429.7L594.23 426.8 M594.23 256.5L594.23 259.4 M597.01 429.7L597.01 426.8 M597.01 256.5L597.01 259.4 M599.36 429.7L599.36 426.8 M599.36 256.5L599.36 259.4 M601.4 429.7L601.4 426.8 M601.4 256.5L601.4 259.4 M603.19 429.7L603.19 426.8 M603.19 256.5L603.19 259.4 M604.8 429.7L604.8 426.1 M604.8 256.5L604.8 260.1 M615.37 429.7L615.37 426.8 M615.37 256.5L615.37 259.4 M621.55 429.7L621.55 426.8 M621.55 256.5L621.55 259.4 M625.93 429.7L625.93 426.8 M625.93 256.5L625.93 259.4 M629.33 429.7L629.33 426.8 M629.33 256.5L629.33 259.4 M632.11 429.7L632.11 426.8 M632.11 256.5L632.11 259.4 M634.46 429.7L634.46 426.8 M634.46 256.5L634.46 259.4 M636.5 429.7L636.5 426.8 M636.5 256.5L636.5 259.4 M638.29 429.7L638.29 426.8 M638.29 256.5L638.29 259.4 M639.9 429.7L639.9 426.1 M639.9 256.5L639.9 260.1 M650.47 429.7L650.47 426.8 M650.47 256.5L650.47 259.4 M656.65 429.7L656.65 426.8 M656.65 256.5L656.65 259.4 M661.03 429.7L661.03 426.8 M661.03 256.5L661.03 259.4 M664.43 429.7L664.43 426.8 M664.43 256.5L664.43 259.4 M667.21 429.7L667.21 426.8 M667.21 256.5L667.21 259.4 M669.56 429.7L669.56 426.8 M669.56 256.5L669.56 259.4 M671.6 429.7L671.6 426.8 M671.6 256.5L671.6 259.4 M673.39 429.7L673.39 426.8 M673.39 256.5L673.39 259.4 M675 429.7L675 426.1 M675 256.5L675 260.1 M394.2 429.7L397.8 429.7 M675 429.7L671.4 429.7 M394.2 419.27L397.1 419.27 M675 419.27L672.1 419.27 M394.2 413.17L397.1 413.17 M675 413.17L672.1 413.17 M394.2 408.84L397.1 408.84 M675 408.84L672.1 408.84 M394.2 405.49L397.1 405.49 M675 405.49L672.1 405.49 M394.2 402.74L397.1 402.74 M675 402.74L672.1 402.74 M394.2 400.43L397.1 400.43 M675 400.43L672.1 400.43 M394.2 398.42L397.1 398.42 M675 398.42L672.1 398.42 M394.2 396.65L397.1 396.65 M675 396.65L672.1 396.65 M394.2 395.06L397.8 395.06 M675 395.06L671.4 395.06 M394.2 384.63L397.1 384.63 M675 384.63L672.1 384.63 M394.2 378.53L397.1 378.53 M675 378.53L672.1 378.53 M394.2 374.2L397.1 374.2 M675 374.2L672.1 374.2 M394.2 370.85L397.1 370.85 M675 370.85L672.1 370.85 M394.2 368.1L397.1 368.1 M675 368.1L672.1 368.1 M394.2 365.79L397.1 365.79 M675 365.79L672.1 365.79 M394.2 363.78L397.1 363.78 M675 363.78L672.1 363.78 M394.2 362.01L397.1 362.01 M675 362.01L672.1 362.01 M394.2 360.42L397.8 360.42 M675 360.42L671.4 360.42 M394.2 349.99L397.1 349.99 M675 349.99L672.1 349.99 M394.2 343.89L397.1 343.89 M675 343.89L672.1 343.89 M394.2 339.56L397.1 339.56 M675 339.56L672.1 339.56 M394.2 336.21L397.1 336.21 M675 336.21L672.1 336.21 M394.2 333.46L397.1 333.46 M675 333.46L672.1 333.46 M394.2 331.15L397.1 331.15 M675 331.15L672.1 331.15 M394.2 329.14L397.1 329.14 M675 329.14L672.1 329.14 M394.2 327.37L397.1 327.37 M675 327.37L672.1 327.37 M394.2 325.78L397.8 325.78 M675 325.78L671.4 325.78 M394.2 315.35L397.1 315.35 M675 315.35L672.1 315.35 M394.2 309.25L397.1 309.25 M675 309.25L672.1 309.25 M394.2 304.92L397.1 304.92 M675 304.92L672.1 304.92 M394.2 301.57L397.1 301.57 M675 301.57L672.1 301.57 M394.2 298.82L397.1 298.82 M675 298.82L672.1 298.82 M394.2 296.51L397.1 296.51 M675 296.51L672.1 296.51 M394.2 294.5L397.1 294.5 M675 294.5L672.1 294.5 M394.2 292.73L397.1 292.73 M675 292.73L672.1 292.73 M394.2 291.14L397.8 291.14 M675 291.14L671.4 291.14 M394.2 280.71L397.1 280.71 M675 280.71L672.1 280.71 M394.2 274.61L397.1 274.61 M675 274.61L672.1 274.61 M394.2 270.28L397.1 270.28 M675 270.28L672.1 270.28 M394.2 266.93L397.1 266.93 M675 266.93L672.1 266.93 M394.2 264.18L397.1 264.18 M675 264.18L672.1 264.18 M394.2 261.87L397.1 261.87 M675 261.87L672.1 261.87 M394.2 259.86L397.1 259.86 M675 259.86L672.1 259.86 M394.2 258.09L397.1 258.09 M675 258.09L672.1 258.09 M394.2 256.5L397.8 256.5 M675 256.5L671.4 256.5" stroke="#707070" stroke-width="0.8" fill="none"/>
<rect x="394.2" y="256.5" width="280.8" height="173.2" fill="none" stroke="#d6d6d6" stroke-width="2.7"/>
<rect x="394.2" y="256.5" width="280.8" height="173.2" fill="none" stroke="#a6a6a6" stroke-width="1.2"/>
<rect x="264.9" y="106.3" width="10.8" height="10.8" fill="#e87d82" stroke="#f4f4f4" stroke-width="1.1"/>
<rect x="264.9" y="131.3" width="10.8" height="10.8" fill="#6296b4" stroke="#f4f4f4" stroke-width="1.1"/>
<rect x="264.9" y="156.3" width="10.8" height="10.8" fill="#f9a258" stroke="#f4f4f4" stroke-width="1.1"/>
<line x1="79" y1="272" x2="122.5" y2="272" stroke="#e6e6e6" stroke-width="3.2"/>
<line x1="79" y1="272" x2="122.5" y2="272" stroke="#9a9a9a" stroke-width="1.6"/>
<line x1="79" y1="301.5" x2="121" y2="301.5" stroke="#e6e6e6" stroke-width="2.6" stroke-linecap="square" stroke-dasharray="0.01 5.2"/>
<line x1="79" y1="301.5" x2="121" y2="301.5" stroke="#9a9a9a" stroke-width="1.3" stroke-linecap="square" stroke-dasharray="0.01 5.2"/>
<g style="filter:grayscale(1)" font-family="Liberation Serif, serif" fill="#000" stroke="#d8d8d8" stroke-width="1.55" stroke-linejoin="round">
<text x="52.5" y="11.45" text-anchor="end" font-size="15.5">1</text>
<text x="54.3" y="46.04" text-anchor="end" font-size="15.5">0.100</text>
<text x="54.3" y="80.63" text-anchor="end" font-size="15.5">0.010</text>
<text x="54.3" y="115.22" text-anchor="end" font-size="15.5">0.001</text>
<text x="53.5" y="151.11" text-anchor="end" font-size="15.5">10<tspan font-size="11" dy="-5.2">−4</tspan></text>
<text x="53.5" y="185.7" text-anchor="end" font-size="15.5">10<tspan font-size="11" dy="-5.2">−5</tspan></text>
<text x="52.2" y="257" text-anchor="end" font-size="15.5">1</text>
<text x="54" y="285.8" text-anchor="end" font-size="15.5">0.100</text>
<text x="54" y="314.6" text-anchor="end" font-size="15.5">0.010</text>
<text x="54" y="343.4" text-anchor="end" font-size="15.5">0.001</text>
<text x="52.8" y="373.5" text-anchor="end" font-size="15.5">10<tspan font-size="11" dy="-5.2">−4</tspan></text>
<text x="52.8" y="402.3" text-anchor="end" font-size="15.5">10<tspan font-size="11" dy="-5.2">−5</tspan></text>
<text x="52.8" y="431.1" text-anchor="end" font-size="15.5">10<tspan font-size="11" dy="-5.2">−6</tspan></text>
<text x="390.5" y="14.5" text-anchor="end" font-size="15.5">1</text>
<text x="390.5" y="64.36" text-anchor="end" font-size="15.5">0.1</text>
<text x="390.5" y="115.51" text-anchor="end" font-size="15.5">10<tspan font-size="11" dy="-5.2">−2</tspan></text>
<text x="390.5" y="165.37" text-anchor="end" font-size="15.5">10<tspan font-size="11" dy="-5.2">−3</tspan></text>
<text x="390.5" y="260.5" text-anchor="end" font-size="15.5">1</text>
<text x="390.5" y="295.14" text-anchor="end" font-size="15.5">0.1</text>
<text x="390.5" y="331.08" text-anchor="end" font-size="15.5">10<tspan font-size="11" dy="-5.2">−2</tspan></text>
<text x="390.5" y="365.72" text-anchor="end" font-size="15.5">10<tspan font-size="11" dy="-5.2">−3</tspan></text>
<text x="390.5" y="400.36" text-anchor="end" font-size="15.5">10<tspan font-size="11" dy="-5.2">−4</tspan></text>
<text x="390.5" y="435" text-anchor="end" font-size="15.5">10<tspan font-size="11" dy="-5.2">−5</tspan></text>
<text x="56.4" y="195.2" text-anchor="middle" font-size="15.5">0.1</text>
<text x="102.05" y="195.2" text-anchor="middle" font-size="15.5">0.2</text>
<text x="162.4" y="195.2" text-anchor="middle" font-size="15.5">0.5</text>
<text x="208.05" y="195.2" text-anchor="middle" font-size="15.5">1</text>
<text x="253.69" y="195.2" text-anchor="middle" font-size="15.5">2</text>
<text x="314.04" y="195.2" text-anchor="middle" font-size="15.5">5</text>
<text x="56.4" y="440" text-anchor="middle" font-size="15.5">0.1</text>
<text x="102.1" y="440" text-anchor="middle" font-size="15.5">0.2</text>
<text x="162.51" y="440" text-anchor="middle" font-size="15.5">0.5</text>
<text x="208.21" y="440" text-anchor="middle" font-size="15.5">1</text>
<text x="253.91" y="440" text-anchor="middle" font-size="15.5">2</text>
<text x="314.32" y="440" text-anchor="middle" font-size="15.5">5</text>
<text x="394" y="202.6" text-anchor="middle" font-size="15.5">10<tspan font-size="11" dy="-5.2">−4</tspan></text>
<text x="429.12" y="202.6" text-anchor="middle" font-size="15.5">10<tspan font-size="11" dy="-5.2">−3</tspan></text>
<text x="464.25" y="202.6" text-anchor="middle" font-size="15.5">10<tspan font-size="11" dy="-5.2">−2</tspan></text>
<text x="499.38" y="200.2" text-anchor="middle" font-size="15.5">0.1</text>
<text x="534.5" y="200.2" text-anchor="middle" font-size="15.5">1</text>
<text x="569.62" y="200.2" text-anchor="middle" font-size="15.5">10</text>
<text x="604.75" y="202.6" text-anchor="middle" font-size="15.5">10<tspan font-size="11" dy="-5.2">2</tspan></text>
<text x="639.88" y="202.6" text-anchor="middle" font-size="15.5">10<tspan font-size="11" dy="-5.2">3</tspan></text>
<text x="675" y="202.6" text-anchor="middle" font-size="15.5">10<tspan font-size="11" dy="-5.2">4</tspan></text>
<text x="394.2" y="448.3" text-anchor="middle" font-size="15.5">10<tspan font-size="11" dy="-5.2">−4</tspan></text>
<text x="429.3" y="448.3" text-anchor="middle" font-size="15.5">10<tspan font-size="11" dy="-5.2">−3</tspan></text>
<text x="464.4" y="448.3" text-anchor="middle" font-size="15.5">10<tspan font-size="11" dy="-5.2">−2</tspan></text>
<text x="499.5" y="445.2" text-anchor="middle" font-size="15.5">0.1</text>
<text x="534.6" y="445.2" text-anchor="middle" font-size="15.5">1</text>
<text x="569.7" y="445.2" text-anchor="middle" font-size="15.5">10</text>
<text x="604.8" y="448.3" text-anchor="middle" font-size="15.5">10<tspan font-size="11" dy="-5.2">2</tspan></text>
<text x="639.9" y="448.3" text-anchor="middle" font-size="15.5">10<tspan font-size="11" dy="-5.2">3</tspan></text>
<text x="675" y="448.3" text-anchor="middle" font-size="15.5">10<tspan font-size="11" dy="-5.2">4</tspan></text>
<text x="196.5" y="217.5" text-anchor="middle" font-size="14" font-style="italic">z</text>
<text x="196.5" y="462.5" text-anchor="middle" font-size="14" font-style="italic">z</text>
<text x="534" y="226" text-anchor="middle" font-size="15" letter-spacing="0.3"><tspan font-style="italic">τ</tspan>[day]</text>
<text x="534" y="470.5" text-anchor="middle" font-size="15" letter-spacing="0.3"><tspan font-style="italic">τ</tspan>[day]</text>
<text transform="translate(10.8 94) rotate(-90)" text-anchor="middle" font-size="16" letter-spacing="0.6">Δ<tspan font-style="italic">τ</tspan><tspan font-size="10" dy="2.5" font-style="italic">f</tspan><tspan dy="-2.5"> /</tspan><tspan font-style="italic">τ</tspan><tspan font-size="10" dy="2.5" font-style="italic">f</tspan></text>
<text transform="translate(10.8 340) rotate(-90)" text-anchor="middle" font-size="16" letter-spacing="0.6">Δ<tspan font-style="italic">τ</tspan><tspan font-size="10" dy="2.5" font-style="italic">f</tspan><tspan dy="-2.5"> /</tspan><tspan font-style="italic">τ</tspan><tspan font-size="10" dy="2.5" font-style="italic">f</tspan></text>
<text x="76" y="29" text-anchor="start" font-size="14"><tspan font-style="italic">m</tspan><tspan font-size="10" dy="3">1</tspan><tspan dy="-3"> = 500 </tspan><tspan font-style="italic">M</tspan></text>
<text x="77" y="45.8" text-anchor="start" font-size="14"><tspan font-style="italic">m</tspan><tspan font-size="10" dy="3">2</tspan><tspan dy="-3"> = 300 </tspan><tspan font-style="italic">M</tspan></text>
<text x="114" y="62.5" text-anchor="middle" font-size="14"><tspan font-style="italic">τ</tspan> = 1 year</text>
<text x="281.5" y="117.3" text-anchor="start" font-size="13.2">AION</text>
<text x="281.5" y="142.3" text-anchor="start" font-size="13.2">AEDGE</text>
<text x="281.5" y="167.3" text-anchor="start" font-size="13.2">LISA</text>
<text x="129.5" y="277" text-anchor="start" font-size="14"><tspan font-style="italic">m</tspan><tspan font-size="9.5" dy="2.4">1</tspan></text>
<text x="129.5" y="307.5" text-anchor="start" font-size="14" font-style="italic">z</text>
<text x="254" y="374" text-anchor="start" font-size="14"><tspan font-style="italic">m</tspan><tspan font-size="10" dy="3">1</tspan><tspan dy="-3"> = 10</tspan><tspan font-size="10" dy="-5.5">4</tspan><tspan dy="5.5"> </tspan><tspan font-style="italic">M</tspan></text>
<text x="248.5" y="393" text-anchor="start" font-size="14"><tspan font-style="italic">m</tspan><tspan font-size="10" dy="3">2</tspan><tspan dy="-3"> = 5×10</tspan><tspan font-size="10" dy="-5.5">4</tspan><tspan dy="5.5"> </tspan><tspan font-style="italic">M</tspan></text>
<text x="291" y="411" text-anchor="middle" font-size="14"><tspan font-style="italic">τ</tspan> = 1 year</text>
<text x="590" y="33" text-anchor="start" font-size="14"><tspan font-style="italic">z</tspan> = 1</text>
<text x="590" y="279" text-anchor="start" font-size="14"><tspan font-style="italic">z</tspan> = 1</text>
<text x="430" y="170.3" text-anchor="start" font-size="13">1 min</text>
<text x="490.2" y="170.5" text-anchor="start" font-size="13">1 h</text>
<text x="628.6" y="170.5" text-anchor="start" font-size="13">1 yr</text>
</g>
<g style="filter:grayscale(1)" font-family="Liberation Serif, serif" fill="#000" stroke="#000" stroke-width="0.2" stroke-linejoin="round">
<text x="52.5" y="11.45" text-anchor="end" font-size="15.5">1</text>
<text x="54.3" y="46.04" text-anchor="end" font-size="15.5">0.100</text>
<text x="54.3" y="80.63" text-anchor="end" font-size="15.5">0.010</text>
<text x="54.3" y="115.22" text-anchor="end" font-size="15.5">0.001</text>
<text x="53.5" y="151.11" text-anchor="end" font-size="15.5">10<tspan font-size="11" dy="-5.2">−4</tspan></text>
<text x="53.5" y="185.7" text-anchor="end" font-size="15.5">10<tspan font-size="11" dy="-5.2">−5</tspan></text>
<text x="52.2" y="257" text-anchor="end" font-size="15.5">1</text>
<text x="54" y="285.8" text-anchor="end" font-size="15.5">0.100</text>
<text x="54" y="314.6" text-anchor="end" font-size="15.5">0.010</text>
<text x="54" y="343.4" text-anchor="end" font-size="15.5">0.001</text>
<text x="52.8" y="373.5" text-anchor="end" font-size="15.5">10<tspan font-size="11" dy="-5.2">−4</tspan></text>
<text x="52.8" y="402.3" text-anchor="end" font-size="15.5">10<tspan font-size="11" dy="-5.2">−5</tspan></text>
<text x="52.8" y="431.1" text-anchor="end" font-size="15.5">10<tspan font-size="11" dy="-5.2">−6</tspan></text>
<text x="390.5" y="14.5" text-anchor="end" font-size="15.5">1</text>
<text x="390.5" y="64.36" text-anchor="end" font-size="15.5">0.1</text>
<text x="390.5" y="115.51" text-anchor="end" font-size="15.5">10<tspan font-size="11" dy="-5.2">−2</tspan></text>
<text x="390.5" y="165.37" text-anchor="end" font-size="15.5">10<tspan font-size="11" dy="-5.2">−3</tspan></text>
<text x="390.5" y="260.5" text-anchor="end" font-size="15.5">1</text>
<text x="390.5" y="295.14" text-anchor="end" font-size="15.5">0.1</text>
<text x="390.5" y="331.08" text-anchor="end" font-size="15.5">10<tspan font-size="11" dy="-5.2">−2</tspan></text>
<text x="390.5" y="365.72" text-anchor="end" font-size="15.5">10<tspan font-size="11" dy="-5.2">−3</tspan></text>
<text x="390.5" y="400.36" text-anchor="end" font-size="15.5">10<tspan font-size="11" dy="-5.2">−4</tspan></text>
<text x="390.5" y="435" text-anchor="end" font-size="15.5">10<tspan font-size="11" dy="-5.2">−5</tspan></text>
<text x="56.4" y="195.2" text-anchor="middle" font-size="15.5">0.1</text>
<text x="102.05" y="195.2" text-anchor="middle" font-size="15.5">0.2</text>
<text x="162.4" y="195.2" text-anchor="middle" font-size="15.5">0.5</text>
<text x="208.05" y="195.2" text-anchor="middle" font-size="15.5">1</text>
<text x="253.69" y="195.2" text-anchor="middle" font-size="15.5">2</text>
<text x="314.04" y="195.2" text-anchor="middle" font-size="15.5">5</text>
<text x="56.4" y="440" text-anchor="middle" font-size="15.5">0.1</text>
<text x="102.1" y="440" text-anchor="middle" font-size="15.5">0.2</text>
<text x="162.51" y="440" text-anchor="middle" font-size="15.5">0.5</text>
<text x="208.21" y="440" text-anchor="middle" font-size="15.5">1</text>
<text x="253.91" y="440" text-anchor="middle" font-size="15.5">2</text>
<text x="314.32" y="440" text-anchor="middle" font-size="15.5">5</text>
<text x="394" y="202.6" text-anchor="middle" font-size="15.5">10<tspan font-size="11" dy="-5.2">−4</tspan></text>
<text x="429.12" y="202.6" text-anchor="middle" font-size="15.5">10<tspan font-size="11" dy="-5.2">−3</tspan></text>
<text x="464.25" y="202.6" text-anchor="middle" font-size="15.5">10<tspan font-size="11" dy="-5.2">−2</tspan></text>
<text x="499.38" y="200.2" text-anchor="middle" font-size="15.5">0.1</text>
<text x="534.5" y="200.2" text-anchor="middle" font-size="15.5">1</text>
<text x="569.62" y="200.2" text-anchor="middle" font-size="15.5">10</text>
<text x="604.75" y="202.6" text-anchor="middle" font-size="15.5">10<tspan font-size="11" dy="-5.2">2</tspan></text>
<text x="639.88" y="202.6" text-anchor="middle" font-size="15.5">10<tspan font-size="11" dy="-5.2">3</tspan></text>
<text x="675" y="202.6" text-anchor="middle" font-size="15.5">10<tspan font-size="11" dy="-5.2">4</tspan></text>
<text x="394.2" y="448.3" text-anchor="middle" font-size="15.5">10<tspan font-size="11" dy="-5.2">−4</tspan></text>
<text x="429.3" y="448.3" text-anchor="middle" font-size="15.5">10<tspan font-size="11" dy="-5.2">−3</tspan></text>
<text x="464.4" y="448.3" text-anchor="middle" font-size="15.5">10<tspan font-size="11" dy="-5.2">−2</tspan></text>
<text x="499.5" y="445.2" text-anchor="middle" font-size="15.5">0.1</text>
<text x="534.6" y="445.2" text-anchor="middle" font-size="15.5">1</text>
<text x="569.7" y="445.2" text-anchor="middle" font-size="15.5">10</text>
<text x="604.8" y="448.3" text-anchor="middle" font-size="15.5">10<tspan font-size="11" dy="-5.2">2</tspan></text>
<text x="639.9" y="448.3" text-anchor="middle" font-size="15.5">10<tspan font-size="11" dy="-5.2">3</tspan></text>
<text x="675" y="448.3" text-anchor="middle" font-size="15.5">10<tspan font-size="11" dy="-5.2">4</tspan></text>
<text x="196.5" y="217.5" text-anchor="middle" font-size="14" font-style="italic">z</text>
<text x="196.5" y="462.5" text-anchor="middle" font-size="14" font-style="italic">z</text>
<text x="534" y="226" text-anchor="middle" font-size="15" letter-spacing="0.3"><tspan font-style="italic">τ</tspan>[day]</text>
<text x="534" y="470.5" text-anchor="middle" font-size="15" letter-spacing="0.3"><tspan font-style="italic">τ</tspan>[day]</text>
<text transform="translate(10.8 94) rotate(-90)" text-anchor="middle" font-size="16" letter-spacing="0.6">Δ<tspan font-style="italic">τ</tspan><tspan font-size="10" dy="2.5" font-style="italic">f</tspan><tspan dy="-2.5"> /</tspan><tspan font-style="italic">τ</tspan><tspan font-size="10" dy="2.5" font-style="italic">f</tspan></text>
<text transform="translate(10.8 340) rotate(-90)" text-anchor="middle" font-size="16" letter-spacing="0.6">Δ<tspan font-style="italic">τ</tspan><tspan font-size="10" dy="2.5" font-style="italic">f</tspan><tspan dy="-2.5"> /</tspan><tspan font-style="italic">τ</tspan><tspan font-size="10" dy="2.5" font-style="italic">f</tspan></text>
<text x="76" y="29" text-anchor="start" font-size="14"><tspan font-style="italic">m</tspan><tspan font-size="10" dy="3">1</tspan><tspan dy="-3"> = 500 </tspan><tspan font-style="italic">M</tspan></text>
<text x="77" y="45.8" text-anchor="start" font-size="14"><tspan font-style="italic">m</tspan><tspan font-size="10" dy="3">2</tspan><tspan dy="-3"> = 300 </tspan><tspan font-style="italic">M</tspan></text>
<text x="114" y="62.5" text-anchor="middle" font-size="14"><tspan font-style="italic">τ</tspan> = 1 year</text>
<text x="281.5" y="117.3" text-anchor="start" font-size="13.2">AION</text>
<text x="281.5" y="142.3" text-anchor="start" font-size="13.2">AEDGE</text>
<text x="281.5" y="167.3" text-anchor="start" font-size="13.2">LISA</text>
<text x="129.5" y="277" text-anchor="start" font-size="14"><tspan font-style="italic">m</tspan><tspan font-size="9.5" dy="2.4">1</tspan></text>
<text x="129.5" y="307.5" text-anchor="start" font-size="14" font-style="italic">z</text>
<text x="254" y="374" text-anchor="start" font-size="14"><tspan font-style="italic">m</tspan><tspan font-size="10" dy="3">1</tspan><tspan dy="-3"> = 10</tspan><tspan font-size="10" dy="-5.5">4</tspan><tspan dy="5.5"> </tspan><tspan font-style="italic">M</tspan></text>
<text x="248.5" y="393" text-anchor="start" font-size="14"><tspan font-style="italic">m</tspan><tspan font-size="10" dy="3">2</tspan><tspan dy="-3"> = 5×10</tspan><tspan font-size="10" dy="-5.5">4</tspan><tspan dy="5.5"> </tspan><tspan font-style="italic">M</tspan></text>
<text x="291" y="411" text-anchor="middle" font-size="14"><tspan font-style="italic">τ</tspan> = 1 year</text>
<text x="590" y="33" text-anchor="start" font-size="14"><tspan font-style="italic">z</tspan> = 1</text>
<text x="590" y="279" text-anchor="start" font-size="14"><tspan font-style="italic">z</tspan> = 1</text>
<text x="430" y="170.3" text-anchor="start" font-size="13">1 min</text>
<text x="490.2" y="170.5" text-anchor="start" font-size="13">1 h</text>
<text x="628.6" y="170.5" text-anchor="start" font-size="13">1 yr</text>
</g>
<circle cx="146" cy="31.5" r="2.7" fill="#000" stroke="#d9d9d9" stroke-width="1.3"/>
<circle cx="146" cy="31.5" r="0.7" fill="#d9d9d9"/>
<circle cx="148.5" cy="48.5" r="2.7" fill="#000" stroke="#d9d9d9" stroke-width="1.3"/>
<circle cx="148.5" cy="48.5" r="0.7" fill="#d9d9d9"/>
<circle cx="321" cy="374.3" r="2.7" fill="#000" stroke="#d9d9d9" stroke-width="1.3"/>
<circle cx="321" cy="374.3" r="0.7" fill="#d9d9d9"/>
<circle cx="329.5" cy="394.5" r="2.7" fill="#000" stroke="#d9d9d9" stroke-width="1.3"/>
<circle cx="329.5" cy="394.5" r="0.7" fill="#d9d9d9"/>
</svg>
</body></html>
